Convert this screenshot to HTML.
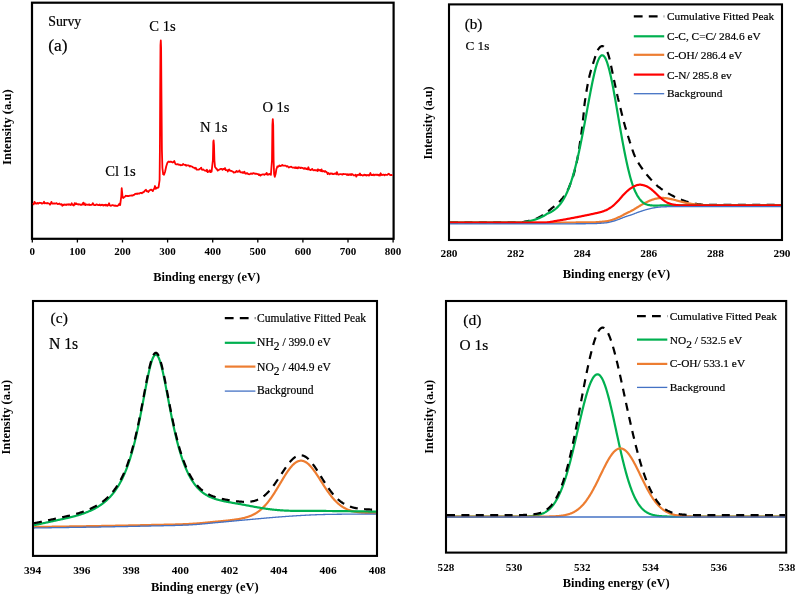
<!DOCTYPE html>
<html><head><meta charset="utf-8"><title>XPS spectra</title>
<style>
html,body{margin:0;padding:0;background:#fff;}
body{width:796px;height:595px;overflow:hidden;}
svg{display:block;will-change:transform;}
text{font-family:"Liberation Serif",serif;fill:#000;}
text.r{stroke:#000;stroke-width:0.2px;}
</style></head>
<body>
<svg width="796" height="595" viewBox="0 0 796 595">
<rect width="796" height="595" fill="#fff"/>
<rect x="32" y="2.7" width="361.6" height="236.1" fill="none" stroke="#000" stroke-width="2.2"/>
<line x1="32.3" y1="239" x2="32.3" y2="242.5" stroke="#000" stroke-width="1.3"/>
<text x="32.3" y="254.7" font-size="11" font-weight="bold" text-anchor="middle" >0</text>
<line x1="77.4" y1="239" x2="77.4" y2="242.5" stroke="#000" stroke-width="1.3"/>
<text x="77.4" y="254.7" font-size="11" font-weight="bold" text-anchor="middle" >100</text>
<line x1="122.5" y1="239" x2="122.5" y2="242.5" stroke="#000" stroke-width="1.3"/>
<text x="122.5" y="254.7" font-size="11" font-weight="bold" text-anchor="middle" >200</text>
<line x1="167.6" y1="239" x2="167.6" y2="242.5" stroke="#000" stroke-width="1.3"/>
<text x="167.6" y="254.7" font-size="11" font-weight="bold" text-anchor="middle" >300</text>
<line x1="212.7" y1="239" x2="212.7" y2="242.5" stroke="#000" stroke-width="1.3"/>
<text x="212.7" y="254.7" font-size="11" font-weight="bold" text-anchor="middle" >400</text>
<line x1="257.8" y1="239" x2="257.8" y2="242.5" stroke="#000" stroke-width="1.3"/>
<text x="257.8" y="254.7" font-size="11" font-weight="bold" text-anchor="middle" >500</text>
<line x1="302.9" y1="239" x2="302.9" y2="242.5" stroke="#000" stroke-width="1.3"/>
<text x="302.9" y="254.7" font-size="11" font-weight="bold" text-anchor="middle" >600</text>
<line x1="348" y1="239" x2="348" y2="242.5" stroke="#000" stroke-width="1.3"/>
<text x="348" y="254.7" font-size="11" font-weight="bold" text-anchor="middle" >700</text>
<line x1="393.1" y1="239" x2="393.1" y2="242.5" stroke="#000" stroke-width="1.3"/>
<text x="393.1" y="254.7" font-size="11" font-weight="bold" text-anchor="middle" >800</text>
<text x="153.2" y="281.1" font-size="12.41" font-weight="bold" text-anchor="start" >Binding energy (eV)</text>
<text transform="translate(11.1,127.2) rotate(-90)" font-size="12.6" font-weight="bold" text-anchor="middle">Intensity (a.u)</text>
<text x="48.3" y="25.5" font-size="13.8" class="r" text-anchor="start" >Survy</text>
<text x="48.3" y="51.1" font-size="17.4" class="r" text-anchor="start" >(a)</text>
<text x="149.3" y="31.4" font-size="14.6" class="r" text-anchor="start" >C 1s</text>
<text x="200.1" y="131.7" font-size="14.7" class="r" text-anchor="start" >N 1s</text>
<text x="262.4" y="111.9" font-size="14.5" class="r" text-anchor="start" >O 1s</text>
<text x="105.3" y="176.3" font-size="14.6" class="r" text-anchor="start" >Cl 1s</text>
<path d="M33,203.02 L33.74,204.34 L34.48,201.85 L35.22,202.72 L35.95,203.66 L36.69,203.54 L37.43,202.91 L38.17,203.67 L38.91,203.09 L39.65,202.73 L40.38,202.98 L41.12,202.8 L41.86,203.53 L42.6,203.28 L43.34,203.07 L44.07,201.79 L44.81,203.41 L45.54,203.03 L46.28,203.18 L47.01,203.54 L47.75,202.98 L48.48,203.27 L49.22,203.49 L49.95,204.67 L50.69,203.53 L51.42,201.92 L52.16,203.55 L52.89,203.67 L53.63,203.49 L54.36,203.38 L55.1,203.65 L55.83,203.39 L56.57,203.08 L57.3,203.8 L58.03,204.1 L58.77,203.76 L59.5,203.5 L60.23,204.45 L60.97,204.51 L61.7,204.09 L62.43,205.78 L63.17,204.63 L63.9,205.03 L64.61,204.46 L65.33,204.54 L66.04,205.15 L66.75,204.33 L67.47,204.38 L68.18,204.74 L68.89,204.12 L69.6,204.49 L70.32,205.09 L71.03,204.63 L71.74,203.27 L72.46,204.89 L73.17,204.9 L73.88,205.52 L74.6,203.15 L75.31,204.21 L76.02,203.17 L76.73,204.13 L77.45,204.04 L78.16,204.64 L78.87,204.26 L79.59,204.37 L80.3,204.86 L81.04,204.47 L81.77,204.94 L82.51,204.27 L83.24,202.61 L83.98,204.56 L84.71,203.36 L85.45,205.04 L86.18,204.75 L86.92,204.41 L87.65,204.84 L88.39,204.85 L89.12,204.28 L89.86,205.08 L90.59,204.9 L91.33,204.84 L92.06,204.61 L92.8,203.09 L93.5,204.38 L94.2,205.13 L94.9,205.14 L95.6,205.18 L96.3,204.45 L97,204.45 L97.7,204.92 L98.4,205.18 L99.1,205.01 L99.8,204.45 L100.5,205.33 L101.2,205.19 L101.9,204.63 L102.6,204.81 L103.3,205.51 L104,204.94 L104.7,205.31 L105.4,204.71 L106.14,205.55 L106.87,204.79 L107.61,205.69 L108.34,205.06 L109.08,203.29 L109.81,205.43 L110.55,205.76 L111.28,205.72 L112.02,205.06 L112.75,205.18 L113.49,205.51 L114.22,205.37 L114.96,205.91 L115.69,205.47 L116.43,205.96 L117.16,206.01 L117.9,205.63 L118.65,205.02 L119.4,203.68 L120.15,205.03 L121.3,196 L121.7,188.2 L122.1,192 L122.6,197.5 L123.4,197.8 L123.4,198 L124.17,197.07 L124.93,196.72 L125.7,195.74 L126.4,195.8 L127.1,196.2 L127.8,195.93 L128.5,196.18 L129.2,195.83 L129.9,195.66 L130.6,195.53 L131.3,195.48 L132.01,195.47 L132.73,195.48 L133.44,194.92 L134.15,194.96 L134.86,194.09 L135.57,193.84 L136.29,193.62 L137,194.06 L137.8,193.33 L138.6,193.63 L139.4,193.68 L140.2,192.92 L141,192.92 L141.8,193.3 L142.6,192.39 L143.45,192.24 L144.3,191.47 L145.15,190.39 L146,189.81 L146.77,191.25 L147.53,191.07 L148.3,192.06 L149.23,190.77 L150.17,190.05 L151.1,189.59 L151.95,190.23 L152.8,191.09 L153.53,189.41 L154.27,188.73 L155,186.04 L155.72,188.77 L156.45,188.02 L157.18,187.67 L157.9,187.81 L158.6,187.16 L159.6,180 L159.9,150 L160.2,90 L160.5,45 L160.8,40.5 L161.1,48 L161.5,100 L161.9,150 L162.4,168 L163.2,174.3 L164,174.8 L165,172 L166.2,166.5 L167.3,163 L168.2,161.8 L168.2,161.86 L168.96,161.66 L169.72,162.03 L170.48,161.69 L171.24,161.73 L172,162.1 L172.77,162.54 L173.53,162.23 L174.3,161.04 L175.3,163.7 L176.08,164.34 L176.87,164.34 L177.65,164.04 L178.43,164.46 L179.22,164.96 L180,164.71 L180.77,165.27 L181.54,165.19 L182.31,165.06 L183.09,163.92 L183.86,164.61 L184.63,164.87 L185.4,164.77 L186.11,165.73 L186.83,165.26 L187.54,165.41 L188.26,165.42 L188.97,165.67 L189.69,166.55 L190.4,165.93 L191.27,166.44 L192.13,166.55 L193,167.47 L193.7,167.65 L194.4,167.91 L195.1,168.45 L195.8,167.82 L196.5,169.52 L197.3,169.63 L198.1,169.56 L198.9,169.59 L199.7,168.82 L200.5,168.44 L201.21,167.74 L201.93,169.72 L202.64,169.81 L203.36,169.45 L204.07,170.09 L204.79,170.66 L205.5,170.69 L206.23,170.96 L206.96,169.76 L207.69,172.14 L208.41,171.35 L209.14,171.59 L209.87,170.18 L210.6,172.06 L211.6,171.69 L212.9,160 L213.3,142 L213.6,140.4 L214,145 L214.4,160 L215,167 L215.6,167.7 L216.5,169 L216.5,168.49 L217.7,170.62 L218.5,169.99 L219.3,169.72 L220.1,169.15 L220.9,168.86 L221.7,168.91 L222.52,169.89 L223.35,168.91 L224.18,169.27 L225,168.09 L225.71,170.09 L226.43,170.18 L227.14,170.08 L227.86,171.47 L228.57,169.88 L229.29,169.51 L230,170.77 L230.78,170.79 L231.55,170.96 L232.32,171.41 L233.1,171.78 L233.8,172.67 L234.5,172.45 L235.2,172.47 L235.9,171.65 L236.6,170.98 L237.3,171.83 L238,171.55 L238.7,171.54 L239.4,170.48 L240.1,172 L240.81,172.31 L241.53,172.5 L242.24,172.09 L242.96,173.04 L243.67,172.51 L244.39,171.63 L245.1,173.49 L245.83,173.72 L246.56,173.05 L247.29,173.08 L248.01,174.09 L248.74,174.04 L249.47,174.27 L250.2,173.96 L250.91,173.33 L251.63,173.76 L252.34,173.94 L253.06,173.2 L253.77,173.25 L254.49,173.46 L255.2,173.88 L255.95,173.53 L256.7,173.79 L257.45,174.11 L258.2,174.05 L258.95,175.14 L259.7,174.55 L260.45,175.67 L261.2,174.88 L262,174.6 L262.8,174.38 L263.6,174.36 L264.4,174.87 L265.2,174.1 L265.91,174.24 L266.62,172.88 L267.33,174.78 L268.04,174.25 L268.76,174.68 L269.47,174 L270.18,174.16 L270.89,174.82 L272,160 L272.4,125 L272.8,119.1 L273.2,125 L273.6,160 L274.1,174 L274.8,176.8 L275.6,174 L276.4,169 L277.3,166.8 L277.3,166.31 L278.01,166.76 L278.73,166.2 L279.44,165.36 L280.16,166.16 L280.87,165.79 L281.59,165.62 L282.3,164.83 L283.05,165.64 L283.8,165.62 L284.55,165.73 L285.3,165.56 L286.03,165.93 L286.76,166.56 L287.49,166.09 L288.21,166.83 L288.94,167.46 L289.67,167.05 L290.4,166.78 L291.17,166.64 L291.93,167.29 L292.7,167.62 L293.47,167.54 L294.23,167.39 L295,168.04 L295.7,167.25 L296.4,168.03 L297.1,167.55 L297.8,168.34 L298.5,167.31 L299.2,167.77 L299.9,167.52 L300.6,168.17 L301.3,167.56 L302,167.78 L302.7,167.79 L303.4,168.5 L304.1,168.83 L304.8,168.03 L305.5,168.4 L306.2,169.13 L306.9,168.58 L307.6,169.35 L308.38,167.23 L309.15,169.69 L309.93,169.71 L310.7,170.15 L311.48,169.49 L312.25,168.87 L313.03,170.15 L313.8,170.3 L314.5,169.94 L315.2,170.37 L315.9,170.13 L316.6,170.25 L317.3,170.99 L318,169.23 L318.7,170.51 L319.4,170.32 L320.1,169.89 L320.83,171.15 L321.56,169.38 L322.29,171.45 L323.01,171.33 L323.74,170.94 L324.47,171.75 L325.2,171.02 L326.03,171.85 L326.87,172.25 L327.7,174.09 L328.41,173.04 L329.13,173.63 L329.84,174.22 L330.56,173.42 L331.27,173.74 L331.99,173.4 L332.7,174.08 L333.4,174.15 L334.1,173.67 L334.8,173.74 L335.5,173.44 L336.2,174.26 L336.9,172.09 L337.6,173.83 L338.3,174.52 L339,174.61 L339.7,174.13 L340.4,174.1 L341.1,174.1 L341.8,174.44 L342.5,174.67 L343.2,173.86 L343.9,174.09 L344.6,174.22 L345.3,174.05 L346.04,174.14 L346.77,174.92 L347.51,174.3 L348.24,175.12 L348.98,174.26 L349.71,174.79 L350.45,174.18 L351.18,175.06 L351.92,174.04 L352.65,174.31 L353.39,175.34 L354.12,175.33 L354.86,175.29 L355.59,174.61 L356.33,176.6 L357.06,175.11 L357.8,174.85 L358.54,174.66 L359.28,175.13 L360.02,173.48 L360.76,175.23 L361.51,174.81 L362.25,175.38 L362.99,175.53 L363.73,175.11 L364.47,174.57 L365.21,175.29 L365.95,174.81 L366.69,175.6 L367.44,175.15 L368.18,174.98 L368.92,175.67 L369.66,174.74 L370.4,173.04 L371.14,175 L371.87,174.98 L372.61,175.04 L373.34,174.51 L374.08,175.24 L374.81,174.58 L375.55,174.91 L376.28,174.64 L377.02,175.07 L377.75,174.58 L378.49,175.39 L379.22,174.68 L379.96,175.54 L380.69,173.26 L381.43,174.88 L382.16,175.15 L382.9,174.6 L383.65,174.68 L384.39,175.42 L385.14,174.65 L385.88,174.91 L386.63,174.9 L387.38,174.75 L388.12,174.11 L388.87,173.71 L389.62,174.62 L390.36,175.14 L391.11,174.86 L391.85,175.19 L392.6,175.1" fill="none" stroke="#ff0000" stroke-width="1.8" stroke-linejoin="round" />
<rect x="449" y="4.4" width="333" height="235.6" fill="none" stroke="#000" stroke-width="2.1"/>
<text x="449" y="257.1" font-size="11.3" font-weight="bold" text-anchor="middle" >280</text>
<text x="515.6" y="257.1" font-size="11.3" font-weight="bold" text-anchor="middle" >282</text>
<text x="582.2" y="257.1" font-size="11.3" font-weight="bold" text-anchor="middle" >284</text>
<text x="648.8" y="257.1" font-size="11.3" font-weight="bold" text-anchor="middle" >286</text>
<text x="715.4" y="257.1" font-size="11.3" font-weight="bold" text-anchor="middle" >288</text>
<text x="782" y="257.1" font-size="11.3" font-weight="bold" text-anchor="middle" >290</text>
<text x="562.7" y="278.1" font-size="12.47" font-weight="bold" text-anchor="start" >Binding energy (eV)</text>
<text transform="translate(432.2,122.9) rotate(-90)" font-size="12.2" font-weight="bold" text-anchor="middle">Intensity (a.u)</text>
<text x="464.7" y="28.5" font-size="15.2" class="r" text-anchor="start" >(b)</text>
<text x="465.5" y="49.5" font-size="13.2" class="r" text-anchor="start" >C 1s</text>
<path d="M450,222.3 L450.26,222.3 L450.52,222.3 L450.8,222.3 L451.09,222.3 L451.38,222.3 L451.69,222.3 L452.01,222.3 L452.34,222.3 L452.67,222.3 L453.02,222.3 L453.38,222.3 L453.74,222.3 L454.12,222.3 L454.5,222.3 L454.89,222.3 L455.29,222.3 L455.7,222.31 L456.11,222.31 L456.54,222.31 L456.97,222.31 L457.41,222.31 L457.86,222.31 L458.31,222.31 L458.78,222.31 L459.24,222.31 L459.72,222.31 L460.2,222.31 L460.69,222.31 L461.19,222.31 L461.69,222.31 L462.2,222.32 L462.71,222.32 L463.23,222.32 L463.75,222.32 L464.28,222.32 L464.82,222.32 L465.36,222.32 L465.9,222.32 L466.45,222.32 L467.01,222.32 L467.57,222.32 L468.13,222.32 L468.7,222.33 L469.27,222.33 L469.84,222.33 L470.42,222.33 L471.01,222.33 L471.59,222.33 L472.18,222.33 L472.77,222.33 L473.36,222.33 L473.96,222.33 L474.56,222.33 L475.16,222.34 L475.76,222.34 L476.37,222.34 L476.98,222.34 L477.58,222.34 L478.19,222.34 L478.81,222.34 L479.42,222.34 L480.03,222.34 L480.65,222.34 L481.26,222.34 L481.88,222.34 L482.49,222.34 L483.11,222.35 L483.72,222.35 L484.34,222.35 L484.95,222.35 L485.57,222.35 L486.18,222.35 L486.79,222.35 L487.41,222.35 L488.02,222.35 L488.63,222.35 L489.23,222.35 L489.84,222.35 L490.44,222.35 L491.05,222.35 L491.65,222.35 L492.25,222.35 L492.84,222.35 L493.43,222.35 L494.02,222.35 L494.61,222.35 L495.19,222.35 L495.77,222.35 L496.35,222.35 L496.93,222.35 L497.5,222.35 L498.06,222.35 L498.62,222.35 L499.18,222.35 L499.73,222.35 L500.28,222.35 L500.82,222.35 L501.36,222.35 L501.9,222.35 L502.42,222.35 L502.95,222.35 L503.46,222.35 L503.97,222.35 L504.48,222.34 L504.98,222.34 L505.47,222.34 L505.96,222.34 L506.44,222.34 L506.91,222.34 L507.38,222.34 L507.84,222.34 L508.29,222.34 L508.73,222.33 L509.17,222.33 L509.6,222.33 L510.02,222.33 L510.43,222.33 L510.84,222.33 L511.24,222.32 L511.62,222.32 L512,222.32 L512.37,222.32 L512.74,222.32 L513.09,222.31 L513.43,222.31 L513.77,222.31 L514.09,222.31 L514.4,222.31 L514.71,222.3 L515,222.3 L516.74,222.28 L518.23,222.27 L519.48,222.25 L520.52,222.23 L521.37,222.21 L522.04,222.2 L522.57,222.17 L522.96,222.15 L523.24,222.13 L523.44,222.1 L523.56,222.07 L523.64,222.04 L523.69,222 L523.73,221.96 L523.79,221.91 L523.88,221.86 L524.03,221.8 L524.25,221.74 L524.57,221.67 L525,221.6 L525.5,221.52 L526.01,221.43 L526.53,221.34 L527.05,221.25 L527.57,221.15 L528.09,221.04 L528.62,220.93 L529.14,220.82 L529.67,220.7 L530.19,220.58 L530.7,220.46 L531.22,220.33 L531.72,220.2 L532.22,220.06 L532.71,219.92 L533.19,219.78 L533.66,219.64 L534.12,219.5 L534.57,219.35 L535,219.2 L535.56,218.99 L536.1,218.78 L536.62,218.55 L537.13,218.32 L537.63,218.08 L538.11,217.84 L538.58,217.59 L539.04,217.34 L539.49,217.08 L539.93,216.83 L540.35,216.58 L540.78,216.33 L541.19,216.08 L541.6,215.84 L542,215.6 L542.49,215.31 L542.95,215.03 L543.39,214.75 L543.81,214.48 L544.23,214.2 L544.62,213.93 L545.02,213.66 L545.41,213.38 L545.8,213.09 L546.19,212.8 L546.59,212.51 L547,212.2 L547.42,211.88 L547.83,211.56 L548.25,211.22 L548.67,210.89 L549.08,210.54 L549.5,210.19 L549.92,209.84 L550.33,209.49 L550.75,209.14 L551.17,208.79 L551.58,208.44 L552,208.1 L552.42,207.76 L552.83,207.43 L553.24,207.11 L553.66,206.79 L554.07,206.46 L554.48,206.14 L554.9,205.81 L555.31,205.47 L555.73,205.12 L556.15,204.76 L556.57,204.39 L557,204 L557.35,203.67 L557.7,203.34 L558.07,202.99 L558.43,202.63 L558.8,202.27 L559.18,201.9 L559.55,201.53 L559.92,201.15 L560.28,200.77 L560.64,200.39 L560.99,200 L561.34,199.62 L561.67,199.24 L561.99,198.87 L562.3,198.5 L562.64,198.07 L562.97,197.65 L563.29,197.21 L563.59,196.78 L563.89,196.35 L564.18,195.92 L564.46,195.48 L564.73,195.06 L565,194.63 L565.25,194.21 L565.51,193.8 L565.76,193.4 L566,193 L566.31,192.5 L566.59,192.03 L566.87,191.58 L567.13,191.14 L567.38,190.7 L567.63,190.26 L567.87,189.8 L568.11,189.33 L568.35,188.83 L568.6,188.3 L568.79,187.87 L568.98,187.43 L569.16,186.98 L569.34,186.53 L569.52,186.06 L569.7,185.58 L569.88,185.09 L570.06,184.6 L570.25,184.09 L570.43,183.58 L570.62,183.06 L570.81,182.53 L571,182 L571.16,181.56 L571.33,181.11 L571.5,180.65 L571.67,180.19 L571.84,179.72 L572.02,179.24 L572.19,178.76 L572.37,178.28 L572.54,177.79 L572.72,177.29 L572.89,176.8 L573.06,176.3 L573.23,175.8 L573.39,175.3 L573.55,174.8 L573.7,174.3 L573.84,173.83 L573.98,173.35 L574.11,172.87 L574.24,172.39 L574.37,171.9 L574.5,171.41 L574.62,170.93 L574.75,170.43 L574.87,169.94 L574.99,169.45 L575.11,168.95 L575.22,168.46 L575.34,167.97 L575.46,167.47 L575.57,166.98 L575.69,166.49 L575.8,166 L575.92,165.49 L576.04,165 L576.15,164.52 L576.26,164.05 L576.37,163.59 L576.48,163.12 L576.59,162.66 L576.69,162.19 L576.8,161.71 L576.91,161.21 L577.02,160.69 L577.13,160.15 L577.24,159.59 L577.36,159 L577.48,158.37 L577.6,157.7 L577.67,157.29 L577.75,156.86 L577.83,156.42 L577.91,155.96 L577.99,155.5 L578.07,155.02 L578.15,154.54 L578.23,154.05 L578.31,153.54 L578.39,153.04 L578.48,152.52 L578.56,152 L578.65,151.47 L578.73,150.94 L578.81,150.41 L578.9,149.87 L578.98,149.33 L579.07,148.79 L579.15,148.25 L579.23,147.71 L579.32,147.17 L579.4,146.63 L579.48,146.1 L579.56,145.57 L579.64,145.04 L579.72,144.52 L579.8,144 L579.87,143.51 L579.95,143.01 L580.02,142.52 L580.1,142.02 L580.17,141.53 L580.25,141.04 L580.32,140.54 L580.39,140.05 L580.47,139.56 L580.54,139.06 L580.61,138.57 L580.69,138.07 L580.76,137.58 L580.83,137.08 L580.9,136.58 L580.97,136.09 L581.05,135.59 L581.12,135.09 L581.19,134.58 L581.26,134.08 L581.33,133.58 L581.39,133.07 L581.46,132.56 L581.53,132.06 L581.6,131.54 L581.67,131.03 L581.73,130.52 L581.8,130 L581.86,129.52 L581.92,129.03 L581.98,128.54 L582.04,128.05 L582.1,127.56 L582.16,127.06 L582.22,126.57 L582.28,126.07 L582.34,125.57 L582.39,125.07 L582.45,124.57 L582.51,124.07 L582.56,123.57 L582.62,123.07 L582.67,122.56 L582.73,122.06 L582.79,121.55 L582.84,121.05 L582.9,120.54 L582.95,120.04 L583.01,119.53 L583.06,119.03 L583.12,118.52 L583.17,118.02 L583.23,117.51 L583.28,117.01 L583.34,116.5 L583.39,116 L583.45,115.5 L583.5,115 L583.55,114.5 L583.6,114.01 L583.65,113.53 L583.7,113.05 L583.75,112.58 L583.79,112.11 L583.83,111.65 L583.87,111.18 L583.91,110.72 L583.96,110.26 L584,109.8 L584.04,109.34 L584.08,108.87 L584.12,108.41 L584.16,107.94 L584.21,107.46 L584.25,106.99 L584.3,106.5 L584.35,106.01 L584.4,105.52 L584.45,105.01 L584.51,104.5 L584.57,103.98 L584.63,103.45 L584.7,102.91 L584.77,102.35 L584.85,101.78 L584.93,101.2 L585.01,100.61 L585.1,100 L585.16,99.57 L585.23,99.14 L585.3,98.7 L585.36,98.25 L585.43,97.79 L585.5,97.32 L585.58,96.85 L585.65,96.37 L585.73,95.89 L585.8,95.4 L585.88,94.9 L585.96,94.4 L586.04,93.89 L586.13,93.38 L586.21,92.87 L586.29,92.35 L586.38,91.83 L586.47,91.3 L586.55,90.78 L586.64,90.25 L586.73,89.72 L586.83,89.19 L586.92,88.66 L587.01,88.12 L587.1,87.59 L587.2,87.06 L587.29,86.53 L587.39,86 L587.49,85.47 L587.58,84.95 L587.68,84.42 L587.78,83.9 L587.88,83.38 L587.98,82.87 L588.08,82.36 L588.18,81.85 L588.28,81.35 L588.38,80.85 L588.49,80.36 L588.59,79.88 L588.69,79.4 L588.79,78.92 L588.9,78.46 L589,78 L589.12,77.46 L589.25,76.92 L589.38,76.38 L589.51,75.84 L589.65,75.3 L589.78,74.77 L589.92,74.23 L590.06,73.7 L590.21,73.17 L590.35,72.64 L590.49,72.11 L590.64,71.59 L590.79,71.07 L590.93,70.55 L591.08,70.03 L591.23,69.52 L591.38,69.02 L591.53,68.51 L591.68,68.01 L591.83,67.52 L591.98,67.03 L592.13,66.54 L592.28,66.06 L592.42,65.59 L592.57,65.12 L592.72,64.65 L592.86,64.2 L593,63.75 L593.14,63.3 L593.28,62.86 L593.42,62.43 L593.56,62.01 L593.69,61.59 L593.82,61.18 L593.95,60.78 L594.08,60.39 L594.2,60 L594.41,59.34 L594.62,58.7 L594.81,58.08 L595.01,57.47 L595.2,56.89 L595.38,56.33 L595.56,55.78 L595.74,55.25 L595.91,54.74 L596.08,54.25 L596.25,53.77 L596.42,53.31 L596.59,52.86 L596.76,52.43 L596.93,52.01 L597.1,51.61 L597.28,51.22 L597.45,50.85 L597.63,50.49 L597.81,50.14 L598,49.8 L598.36,49.19 L598.73,48.64 L599.1,48.13 L599.48,47.68 L599.85,47.28 L600.23,46.94 L600.61,46.65 L600.99,46.42 L601.36,46.25 L601.73,46.15 L602.1,46.1 L602.5,46.13 L602.9,46.24 L603.3,46.44 L603.7,46.7 L604.1,47.04 L604.49,47.43 L604.88,47.88 L605.26,48.38 L605.64,48.92 L606,49.5 L606.2,49.83 L606.39,50.15 L606.57,50.47 L606.75,50.79 L606.92,51.12 L607.09,51.46 L607.26,51.81 L607.43,52.19 L607.6,52.59 L607.77,53.02 L607.94,53.48 L608.12,53.98 L608.3,54.52 L608.48,55.11 L608.68,55.74 L608.88,56.43 L609.08,57.19 L609.3,58 L609.39,58.35 L609.49,58.73 L609.58,59.11 L609.68,59.52 L609.78,59.93 L609.88,60.36 L609.98,60.8 L610.09,61.26 L610.19,61.73 L610.3,62.2 L610.4,62.69 L610.51,63.19 L610.62,63.69 L610.73,64.21 L610.84,64.73 L610.96,65.26 L611.07,65.79 L611.18,66.33 L611.3,66.88 L611.41,67.43 L611.52,67.98 L611.64,68.53 L611.75,69.09 L611.87,69.65 L611.98,70.2 L612.09,70.76 L612.21,71.32 L612.32,71.87 L612.43,72.43 L612.54,72.98 L612.66,73.52 L612.77,74.07 L612.88,74.61 L612.99,75.14 L613.09,75.66 L613.2,76.18 L613.3,76.69 L613.41,77.2 L613.51,77.69 L613.61,78.17 L613.71,78.65 L613.81,79.11 L613.91,79.56 L614,80 L614.13,80.59 L614.25,81.17 L614.38,81.75 L614.5,82.32 L614.62,82.89 L614.74,83.45 L614.86,84 L614.98,84.54 L615.1,85.08 L615.21,85.62 L615.33,86.15 L615.44,86.67 L615.55,87.18 L615.66,87.7 L615.77,88.2 L615.88,88.7 L615.99,89.19 L616.1,89.68 L616.2,90.17 L616.31,90.64 L616.41,91.12 L616.51,91.59 L616.62,92.05 L616.72,92.51 L616.82,92.96 L616.92,93.41 L617.02,93.85 L617.11,94.29 L617.21,94.72 L617.31,95.15 L617.4,95.58 L617.5,96 L617.64,96.59 L617.76,97.15 L617.89,97.69 L618.01,98.2 L618.12,98.69 L618.23,99.16 L618.34,99.61 L618.44,100.06 L618.55,100.49 L618.65,100.92 L618.76,101.35 L618.86,101.78 L618.97,102.21 L619.07,102.65 L619.19,103.1 L619.3,103.56 L619.42,104.04 L619.54,104.54 L619.67,105.06 L619.81,105.61 L619.95,106.19 L620.1,106.8 L620.2,107.21 L620.3,107.63 L620.41,108.06 L620.52,108.5 L620.62,108.95 L620.73,109.41 L620.85,109.87 L620.96,110.34 L621.07,110.82 L621.19,111.3 L621.31,111.79 L621.43,112.29 L621.55,112.79 L621.67,113.29 L621.79,113.8 L621.92,114.31 L622.04,114.82 L622.17,115.34 L622.3,115.86 L622.43,116.38 L622.56,116.91 L622.69,117.43 L622.82,117.95 L622.95,118.48 L623.08,119 L623.22,119.52 L623.35,120.04 L623.48,120.56 L623.62,121.07 L623.75,121.59 L623.89,122.1 L624.03,122.6 L624.16,123.1 L624.3,123.6 L624.43,124.08 L624.57,124.56 L624.7,125.04 L624.84,125.52 L624.97,126 L625.11,126.48 L625.25,126.96 L625.39,127.44 L625.53,127.92 L625.67,128.4 L625.81,128.88 L625.95,129.36 L626.09,129.84 L626.24,130.32 L626.38,130.8 L626.53,131.28 L626.67,131.76 L626.82,132.24 L626.96,132.72 L627.11,133.2 L627.26,133.68 L627.41,134.16 L627.56,134.64 L627.71,135.12 L627.86,135.6 L628.01,136.08 L628.16,136.56 L628.31,137.04 L628.47,137.52 L628.62,138 L628.78,138.48 L628.93,138.96 L629.09,139.44 L629.24,139.92 L629.4,140.4 L629.56,140.88 L629.71,141.37 L629.87,141.85 L630.02,142.34 L630.18,142.83 L630.33,143.32 L630.49,143.81 L630.64,144.31 L630.8,144.8 L630.95,145.3 L631.11,145.79 L631.27,146.29 L631.42,146.78 L631.58,147.28 L631.74,147.77 L631.9,148.27 L632.06,148.76 L632.23,149.25 L632.39,149.74 L632.55,150.23 L632.72,150.72 L632.89,151.2 L633.06,151.68 L633.23,152.16 L633.41,152.64 L633.59,153.11 L633.77,153.58 L633.95,154.05 L634.13,154.51 L634.32,154.97 L634.51,155.43 L634.7,155.88 L634.9,156.32 L635.1,156.76 L635.3,157.2 L635.53,157.69 L635.77,158.17 L636.01,158.64 L636.25,159.12 L636.5,159.58 L636.74,160.05 L637,160.51 L637.25,160.96 L637.51,161.41 L637.77,161.86 L638.03,162.31 L638.3,162.75 L638.56,163.19 L638.83,163.62 L639.11,164.05 L639.38,164.48 L639.66,164.91 L639.94,165.33 L640.22,165.76 L640.5,166.18 L640.78,166.59 L641.07,167.01 L641.36,167.43 L641.65,167.84 L641.94,168.25 L642.23,168.66 L642.52,169.07 L642.81,169.48 L643.11,169.89 L643.4,170.29 L643.7,170.7 L644.01,171.12 L644.33,171.54 L644.65,171.97 L644.98,172.39 L645.31,172.82 L645.65,173.25 L645.99,173.67 L646.34,174.1 L646.68,174.52 L647.03,174.95 L647.39,175.37 L647.74,175.79 L648.09,176.2 L648.45,176.62 L648.8,177.03 L649.15,177.43 L649.5,177.83 L649.85,178.22 L650.2,178.61 L650.54,179 L650.88,179.37 L651.22,179.74 L651.55,180.11 L651.88,180.46 L652.2,180.81 L652.51,181.14 L652.82,181.47 L653.12,181.79 L653.42,182.1 L653.7,182.4 L654.15,182.87 L654.58,183.31 L654.99,183.72 L655.38,184.1 L655.76,184.46 L656.12,184.8 L656.47,185.12 L656.82,185.43 L657.16,185.72 L657.5,186 L657.84,186.28 L658.18,186.56 L658.53,186.83 L658.9,187.11 L659.27,187.39 L659.66,187.68 L660.07,187.98 L660.5,188.3 L660.88,188.58 L661.28,188.86 L661.68,189.14 L662.09,189.43 L662.51,189.71 L662.93,190 L663.36,190.29 L663.8,190.57 L664.24,190.86 L664.68,191.14 L665.13,191.42 L665.58,191.7 L666.03,191.98 L666.48,192.26 L666.93,192.53 L667.38,192.8 L667.83,193.07 L668.28,193.34 L668.72,193.59 L669.16,193.85 L669.6,194.1 L670.05,194.36 L670.5,194.61 L670.94,194.86 L671.38,195.11 L671.82,195.35 L672.26,195.59 L672.7,195.83 L673.13,196.06 L673.57,196.29 L674.01,196.52 L674.46,196.74 L674.9,196.97 L675.35,197.19 L675.81,197.41 L676.27,197.63 L676.74,197.84 L677.22,198.06 L677.7,198.27 L678.2,198.49 L678.7,198.7 L679.15,198.89 L679.61,199.07 L680.08,199.26 L680.55,199.45 L681.03,199.63 L681.52,199.82 L682.02,200.01 L682.52,200.19 L683.02,200.37 L683.53,200.56 L684.04,200.74 L684.55,200.91 L685.06,201.09 L685.57,201.26 L686.08,201.43 L686.59,201.59 L687.09,201.75 L687.59,201.9 L688.08,202.06 L688.57,202.2 L689.06,202.34 L689.53,202.47 L690,202.6 L690.53,202.74 L691.05,202.87 L691.57,203 L692.08,203.12 L692.59,203.23 L693.1,203.34 L693.6,203.44 L694.09,203.54 L694.59,203.63 L695.08,203.72 L695.57,203.8 L696.06,203.88 L696.55,203.96 L697.04,204.03 L697.53,204.1 L698.02,204.16 L698.51,204.23 L699.01,204.29 L699.5,204.34 L700,204.4 L700.5,204.45 L701,204.5 L701.5,204.54 L702,204.57 L702.5,204.61 L703,204.63 L703.5,204.66 L704,204.68 L704.5,204.69 L705,204.71 L705.5,204.72 L706,204.73 L706.5,204.74 L707,204.75 L707.5,204.75 L708,204.76 L708.5,204.77 L709,204.78 L709.5,204.79 L710,204.8 L710.44,204.81 L710.77,204.82 L711.01,204.83 L711.18,204.84 L711.3,204.85 L711.39,204.86 L711.47,204.86 L711.55,204.87 L711.66,204.87 L711.81,204.88 L712.03,204.88 L712.33,204.88 L712.73,204.88 L713.25,204.89 L713.91,204.89 L714.74,204.89 L715.74,204.89 L716.93,204.9 L718.35,204.9 L720,204.9 L720.3,204.9 L720.6,204.9 L720.92,204.9 L721.25,204.9 L721.59,204.9 L721.94,204.9 L722.29,204.9 L722.66,204.9 L723.04,204.9 L723.43,204.9 L723.82,204.9 L724.23,204.9 L724.64,204.9 L725.06,204.9 L725.49,204.9 L725.93,204.9 L726.38,204.91 L726.83,204.91 L727.29,204.91 L727.76,204.91 L728.24,204.91 L728.72,204.91 L729.21,204.91 L729.71,204.91 L730.22,204.91 L730.73,204.91 L731.24,204.91 L731.76,204.91 L732.29,204.91 L732.82,204.91 L733.36,204.91 L733.91,204.91 L734.46,204.91 L735.01,204.91 L735.57,204.91 L736.13,204.91 L736.7,204.91 L737.27,204.91 L737.85,204.91 L738.43,204.91 L739.01,204.91 L739.6,204.91 L740.18,204.91 L740.78,204.91 L741.37,204.91 L741.97,204.91 L742.57,204.91 L743.17,204.91 L743.78,204.91 L744.38,204.91 L744.99,204.91 L745.6,204.91 L746.21,204.91 L746.82,204.91 L747.44,204.91 L748.05,204.91 L748.67,204.91 L749.28,204.91 L749.9,204.91 L750.51,204.91 L751.12,204.91 L751.74,204.91 L752.35,204.91 L752.97,204.91 L753.58,204.91 L754.19,204.91 L754.8,204.91 L755.41,204.91 L756.02,204.91 L756.62,204.91 L757.22,204.91 L757.83,204.9 L758.42,204.9 L759.02,204.9 L759.61,204.9 L760.2,204.9 L760.79,204.9 L761.38,204.9 L761.96,204.9 L762.53,204.9 L763.11,204.9 L763.68,204.9 L764.24,204.9 L764.8,204.9 L765.36,204.9 L765.91,204.9 L766.45,204.9 L766.99,204.9 L767.53,204.9 L768.06,204.9 L768.58,204.9 L769.1,204.9 L769.61,204.9 L770.12,204.9 L770.62,204.9 L771.11,204.9 L771.6,204.9 L772.08,204.9 L772.55,204.9 L773.02,204.9 L773.47,204.9 L773.92,204.9 L774.36,204.9 L774.8,204.9 L775.22,204.9 L775.64,204.9 L776.05,204.9 L776.45,204.9 L776.84,204.9 L777.22,204.9 L777.59,204.9 L777.95,204.9 L778.3,204.9 L778.64,204.9 L778.98,204.9 L779.3,204.9 L779.61,204.9 L779.91,204.9 L780.2,204.9 L780.48,204.9 L780.74,204.9 L781,204.9" fill="none" stroke="#000" stroke-width="2.2" stroke-linejoin="round" stroke-dasharray="8 6.4" />
<path d="M450,222.5 L450.5,222.5 L451,222.5 L451.5,222.5 L452,222.5 L452.5,222.5 L453,222.5 L453.5,222.5 L454,222.5 L454.5,222.5 L455,222.5 L455.5,222.5 L456,222.5 L456.5,222.5 L457,222.5 L457.5,222.5 L458,222.5 L458.5,222.5 L459,222.5 L459.5,222.5 L460,222.5 L460.5,222.5 L461,222.5 L461.5,222.5 L462,222.5 L462.5,222.5 L463,222.5 L463.5,222.5 L464,222.5 L464.5,222.5 L465,222.5 L465.5,222.5 L466,222.5 L466.5,222.5 L467,222.5 L467.5,222.5 L468,222.5 L468.5,222.5 L469,222.5 L469.5,222.5 L470,222.5 L470.5,222.5 L471,222.5 L471.5,222.5 L472,222.5 L472.5,222.5 L473,222.5 L473.5,222.5 L474,222.5 L474.5,222.5 L475,222.5 L475.5,222.5 L476,222.5 L476.5,222.5 L477,222.51 L477.5,222.51 L478,222.51 L478.5,222.51 L479,222.51 L479.5,222.51 L480,222.51 L480.5,222.51 L481,222.51 L481.5,222.51 L482,222.51 L482.5,222.51 L483,222.51 L483.5,222.51 L484,222.51 L484.5,222.51 L485,222.51 L485.5,222.51 L486,222.51 L486.5,222.51 L487,222.52 L487.5,222.52 L488,222.52 L488.5,222.52 L489,222.52 L489.5,222.52 L490,222.52 L490.5,222.52 L491,222.52 L491.5,222.52 L492,222.52 L492.5,222.52 L493,222.52 L493.5,222.52 L494,222.52 L494.5,222.52 L495,222.52 L495.5,222.53 L496,222.53 L496.5,222.53 L497,222.53 L497.5,222.53 L498,222.53 L498.5,222.53 L499,222.53 L499.5,222.53 L500,222.53 L500.5,222.53 L501,222.53 L501.5,222.53 L502,222.53 L502.5,222.53 L503,222.53 L503.5,222.53 L504,222.54 L504.5,222.54 L505,222.54 L505.5,222.54 L506,222.54 L506.5,222.54 L507,222.54 L507.5,222.54 L508,222.54 L508.5,222.54 L509,222.54 L509.5,222.54 L510,222.54 L510.5,222.54 L511,222.54 L511.5,222.54 L512,222.54 L512.5,222.54 L513,222.54 L513.5,222.54 L514,222.55 L514.5,222.55 L515,222.55 L515.5,222.55 L516,222.55 L516.5,222.55 L517,222.55 L517.5,222.55 L518,222.55 L518.5,222.55 L519,222.55 L519.5,222.55 L520,222.55 L520.5,222.55 L521,222.55 L521.5,222.55 L522,222.55 L522.5,222.55 L523,222.55 L523.5,222.55 L524,222.55 L524.5,222.55 L525,222.55 L525.5,222.55 L526,222.55 L526.5,222.55 L527,222.55 L527.5,222.55 L528,222.55 L528.5,222.55 L529,222.55 L529.5,222.55 L530,222.55 L530.5,222.55 L531,222.55 L531.5,222.55 L532,222.55 L532.5,222.55 L533,222.55 L533.5,222.55 L534,222.55 L534.5,222.55 L535,222.55 L535.5,222.55 L536,222.55 L536.5,222.55 L537,222.55 L537.5,222.55 L538,222.55 L538.5,222.55 L539,222.55 L539.5,222.55 L540,222.55 L540.5,222.55 L541,222.55 L541.5,222.55 L542,222.55 L542.5,222.55 L543,222.55 L543.5,222.55 L544,222.55 L544.5,222.55 L545,222.55 L545.5,222.55 L546,222.55 L546.5,222.55 L547,222.55 L547.5,222.55 L548,222.55 L548.5,222.55 L549,222.55 L549.5,222.55 L550,222.54 L550.5,222.54 L551,222.54 L551.5,222.54 L552,222.54 L552.5,222.54 L553,222.54 L553.5,222.54 L554,222.54 L554.5,222.54 L555,222.54 L555.5,222.54 L556,222.53 L556.5,222.53 L557,222.53 L557.5,222.53 L558,222.53 L558.5,222.53 L559,222.53 L559.5,222.53 L560,222.53 L560.5,222.53 L561,222.52 L561.5,222.52 L562,222.52 L562.5,222.52 L563,222.52 L563.5,222.52 L564,222.52 L564.5,222.51 L565,222.51 L565.5,222.51 L566,222.51 L566.5,222.51 L567,222.51 L567.5,222.51 L568,222.5 L568.5,222.5 L569,222.5 L569.5,222.5 L570,222.5 L570.5,222.5 L571,222.49 L571.5,222.49 L572,222.49 L572.5,222.49 L573,222.49 L573.5,222.48 L574,222.48 L574.5,222.48 L575,222.48 L575.5,222.48 L576,222.47 L576.5,222.47 L577,222.47 L577.5,222.47 L578,222.46 L578.5,222.46 L579,222.46 L579.5,222.46 L580,222.45 L580.5,222.45 L581,222.45 L581.5,222.45 L582,222.44 L582.5,222.44 L583,222.44 L583.5,222.43 L584,222.43 L584.5,222.43 L585,222.43 L585.5,222.42 L586,222.42 L586.5,222.41 L587,222.41 L587.5,222.41 L588,222.4 L588.5,222.4 L589,222.4 L589.5,222.39 L590,222.39 L590.5,222.38 L591,222.38 L591.5,222.37 L592,222.35 L592.5,222.34 L593,222.33 L593.5,222.31 L594,222.29 L594.5,222.27 L595,222.25 L595.5,222.23 L596,222.2 L596.5,222.17 L597,222.14 L597.5,222.11 L598,222.08 L598.5,222.04 L599,222.01 L599.5,221.97 L600,221.93 L600.5,221.89 L601,221.85 L601.5,221.8 L602,221.76 L602.5,221.71 L603,221.66 L603.5,221.61 L604,221.56 L604.5,221.5 L605,221.45 L605.5,221.39 L606,221.33 L606.5,221.27 L607,221.19 L607.5,221.1 L608,221.01 L608.5,220.9 L609,220.78 L609.5,220.66 L610,220.52 L610.5,220.38 L611,220.24 L611.5,220.09 L612,219.93 L612.5,219.76 L613,219.59 L613.5,219.42 L614,219.23 L614.5,219.04 L615,218.85 L615.5,218.64 L616,218.44 L616.5,218.23 L617,218.01 L617.5,217.8 L618,217.58 L618.5,217.35 L619,217.13 L619.5,216.9 L620,216.66 L620.5,216.41 L621,216.16 L621.5,215.9 L622,215.64 L622.5,215.37 L623,215.1 L623.5,214.84 L624,214.57 L624.5,214.32 L625,214.06 L625.5,213.81 L626,213.57 L626.5,213.32 L627,213.08 L627.5,212.84 L628,212.6 L628.5,212.35 L629,212.11 L629.5,211.86 L630,211.61 L630.5,211.36 L631,211.1 L631.5,210.83 L632,210.56 L632.5,210.28 L633,209.99 L633.5,209.7 L634,209.39 L634.5,209.09 L635,208.78 L635.5,208.46 L636,208.15 L636.5,207.84 L637,207.53 L637.5,207.22 L638,206.93 L638.5,206.63 L639,206.34 L639.5,206.04 L640,205.75 L640.5,205.46 L641,205.17 L641.5,204.89 L642,204.6 L642.5,204.32 L643,204.04 L643.5,203.77 L644,203.5 L644.5,203.23 L645,202.97 L645.5,202.71 L646,202.46 L646.5,202.21 L647,201.96 L647.5,201.71 L648,201.48 L648.5,201.24 L649,201.02 L649.5,200.8 L650,200.58 L650.5,200.38 L651,200.18 L651.5,200 L652,199.82 L652.5,199.65 L653,199.49 L653.5,199.34 L654,199.19 L654.5,199.05 L655,198.92 L655.5,198.8 L656,198.68 L656.5,198.57 L657,198.47 L657.5,198.38 L658,198.29 L658.5,198.22 L659,198.15 L659.5,198.09 L660,198.04 L660.5,198 L661,197.97 L661.5,197.95 L662,197.94 L662.5,197.94 L663,197.95 L663.5,197.97 L664,197.99 L664.5,198.03 L665,198.07 L665.5,198.12 L666,198.18 L666.5,198.24 L667,198.31 L667.5,198.39 L668,198.47 L668.5,198.56 L669,198.66 L669.5,198.76 L670,198.86 L670.5,198.97 L671,199.08 L671.5,199.19 L672,199.31 L672.5,199.43 L673,199.55 L673.5,199.67 L674,199.8 L674.5,199.92 L675,200.05 L675.5,200.18 L676,200.31 L676.5,200.44 L677,200.58 L677.5,200.71 L678,200.84 L678.5,200.97 L679,201.1 L679.5,201.23 L680,201.36 L680.5,201.49 L681,201.62 L681.5,201.75 L682,201.87 L682.5,202 L683,202.12 L683.5,202.24 L684,202.36 L684.5,202.47 L685,202.58 L685.5,202.7 L686,202.8 L686.5,202.91 L687,203.01 L687.5,203.11 L688,203.21 L688.5,203.31 L689,203.4 L689.5,203.49 L690,203.58 L690.5,203.66 L691,203.74 L691.5,203.82 L692,203.9 L692.5,203.97 L693,204.04 L693.5,204.11 L694,204.18 L694.5,204.24 L695,204.3 L695.5,204.36 L696,204.41 L696.5,204.46 L697,204.51 L697.5,204.56 L698,204.61 L698.5,204.65 L699,204.69 L699.5,204.73 L700,204.77 L700.5,204.81 L701,204.84 L701.5,204.87 L702,204.9 L702.5,204.93 L703,204.95 L703.5,204.98 L704,205 L704.5,205.03 L705,205.05 L705.5,205.07 L706,205.08 L706.5,205.1 L707,205.12 L707.5,205.13 L708,205.15 L708.5,205.16 L709,205.17 L709.5,205.18 L710,205.19 L710.5,205.2 L711,205.21 L711.5,205.22 L712,205.23 L712.5,205.24 L713,205.24 L713.5,205.25 L714,205.26 L714.5,205.26 L715,205.27 L715.5,205.27 L716,205.27 L716.5,205.28 L717,205.28 L717.5,205.28 L718,205.29 L718.5,205.29 L719,205.29 L719.5,205.3 L720,205.3 L720.5,205.3 L721,205.3 L721.5,205.3 L722,205.3 L722.5,205.3 L723,205.31 L723.5,205.31 L724,205.31 L724.5,205.31 L725,205.31 L725.5,205.31 L726,205.31 L726.5,205.31 L727,205.31 L727.5,205.31 L728,205.31 L728.5,205.31 L729,205.31 L729.5,205.31 L730,205.31 L730.5,205.31 L731,205.31 L731.5,205.31 L732,205.31 L732.5,205.31 L733,205.31 L733.5,205.31 L734,205.31 L734.5,205.31 L735,205.31 L735.5,205.31 L736,205.31 L736.5,205.31 L737,205.31 L737.5,205.31 L738,205.31 L738.5,205.31 L739,205.31 L739.5,205.31 L740,205.31 L740.5,205.31 L741,205.31 L741.5,205.31 L742,205.31 L742.5,205.31 L743,205.31 L743.5,205.31 L744,205.31 L744.5,205.31 L745,205.31 L745.5,205.31 L746,205.31 L746.5,205.31 L747,205.31 L747.5,205.31 L748,205.31 L748.5,205.31 L749,205.31 L749.5,205.31 L750,205.31 L750.5,205.31 L751,205.31 L751.5,205.31 L752,205.31 L752.5,205.31 L753,205.31 L753.5,205.31 L754,205.31 L754.5,205.31 L755,205.31 L755.5,205.31 L756,205.31 L756.5,205.31 L757,205.31 L757.5,205.31 L758,205.31 L758.5,205.31 L759,205.31 L759.5,205.31 L760,205.31 L760.5,205.31 L761,205.31 L761.5,205.31 L762,205.31 L762.5,205.31 L763,205.31 L763.5,205.31 L764,205.31 L764.5,205.31 L765,205.31 L765.5,205.31 L766,205.31 L766.5,205.31 L767,205.31 L767.5,205.31 L768,205.31 L768.5,205.31 L769,205.31 L769.5,205.31 L770,205.31 L770.5,205.31 L771,205.31 L771.5,205.31 L772,205.31 L772.5,205.31 L773,205.31 L773.5,205.31 L774,205.31 L774.5,205.31 L775,205.31 L775.5,205.3 L776,205.3 L776.5,205.3 L777,205.3 L777.5,205.3 L778,205.3 L778.5,205.3 L779,205.3 L779.5,205.3 L780,205.3 L780.5,205.3 L781,205.3" fill="none" stroke="#ed7d31" stroke-width="2.2" stroke-linejoin="round" />
<path d="M450,222.5 L450.5,222.5 L451,222.5 L451.5,222.5 L452,222.5 L452.5,222.5 L453,222.5 L453.5,222.5 L454,222.5 L454.5,222.5 L455,222.5 L455.5,222.5 L456,222.5 L456.5,222.5 L457,222.5 L457.5,222.5 L458,222.5 L458.5,222.5 L459,222.5 L459.5,222.5 L460,222.5 L460.5,222.5 L461,222.5 L461.5,222.5 L462,222.5 L462.5,222.5 L463,222.5 L463.5,222.5 L464,222.5 L464.5,222.5 L465,222.5 L465.5,222.5 L466,222.5 L466.5,222.5 L467,222.5 L467.5,222.5 L468,222.5 L468.5,222.5 L469,222.5 L469.5,222.5 L470,222.5 L470.5,222.5 L471,222.5 L471.5,222.5 L472,222.5 L472.5,222.5 L473,222.5 L473.5,222.5 L474,222.5 L474.5,222.5 L475,222.5 L475.5,222.5 L476,222.5 L476.5,222.5 L477,222.51 L477.5,222.51 L478,222.51 L478.5,222.51 L479,222.51 L479.5,222.51 L480,222.51 L480.5,222.51 L481,222.51 L481.5,222.51 L482,222.51 L482.5,222.51 L483,222.51 L483.5,222.51 L484,222.51 L484.5,222.51 L485,222.51 L485.5,222.51 L486,222.51 L486.5,222.51 L487,222.52 L487.5,222.52 L488,222.52 L488.5,222.52 L489,222.52 L489.5,222.52 L490,222.52 L490.5,222.52 L491,222.52 L491.5,222.52 L492,222.52 L492.5,222.52 L493,222.52 L493.5,222.52 L494,222.52 L494.5,222.52 L495,222.52 L495.5,222.53 L496,222.53 L496.5,222.53 L497,222.53 L497.5,222.53 L498,222.53 L498.5,222.53 L499,222.53 L499.5,222.53 L500,222.53 L500.5,222.53 L501,222.53 L501.5,222.53 L502,222.53 L502.5,222.53 L503,222.53 L503.5,222.53 L504,222.54 L504.5,222.54 L505,222.54 L505.5,222.54 L506,222.54 L506.5,222.54 L507,222.54 L507.5,222.54 L508,222.54 L508.5,222.54 L509,222.54 L509.5,222.54 L510,222.54 L510.5,222.54 L511,222.54 L511.5,222.54 L512,222.54 L512.5,222.54 L513,222.54 L513.5,222.54 L514,222.55 L514.5,222.55 L515,222.55 L515.5,222.55 L516,222.55 L516.5,222.55 L517,222.55 L517.5,222.55 L518,222.55 L518.5,222.55 L519,222.55 L519.5,222.55 L520,222.55 L520.5,222.55 L521,222.55 L521.5,222.55 L522,222.55 L522.5,222.49 L523,222.4 L523.5,222.31 L524,222.23 L524.5,222.13 L525,222.04 L525.5,221.95 L526,221.85 L526.5,221.75 L527,221.65 L527.5,221.54 L528,221.43 L528.5,221.32 L529,221.21 L529.5,221.09 L530,220.97 L530.5,220.85 L531,220.73 L531.5,220.6 L532,220.46 L532.5,220.33 L533,220.19 L533.5,220.04 L534,219.9 L534.5,219.74 L535,219.59 L535.5,219.43 L536,219.26 L536.5,219.09 L537,218.92 L537.5,218.74 L538,218.55 L538.5,218.36 L539,218.16 L539.5,217.95 L540,217.74 L540.5,217.52 L541,217.3 L541.5,217.06 L542,216.82 L542.5,216.57 L543,216.31 L543.5,216.03 L544,215.75 L544.5,215.46 L545,215.16 L545.5,214.84 L546,214.51 L546.5,214.17 L547,213.81 L547.5,213.58 L548,213.38 L548.5,213.17 L549,212.95 L549.5,212.72 L550,212.47 L550.5,212.22 L551,211.96 L551.5,211.68 L552,211.39 L552.5,211.09 L553,210.77 L553.5,210.44 L554,210.09 L554.5,209.73 L555,209.35 L555.5,208.95 L556,208.53 L556.5,208.09 L557,207.63 L557.5,207.15 L558,206.65 L558.5,206.12 L559,205.57 L559.5,204.99 L560,204.38 L560.5,203.75 L561,203.08 L561.5,202.39 L562,201.67 L562.5,200.91 L563,200.12 L563.5,199.3 L564,198.43 L564.5,197.54 L565,196.6 L565.5,195.63 L566,194.61 L566.5,193.55 L567,192.46 L567.5,191.31 L568,190.13 L568.5,188.9 L569,187.62 L569.5,186.29 L570,184.92 L570.5,183.5 L571,182.03 L571.5,180.51 L572,178.94 L572.5,177.32 L573,175.65 L573.5,173.93 L574,172.16 L574.5,170.33 L575,168.46 L575.5,166.53 L576,164.55 L576.5,162.52 L577,160.44 L577.5,158.31 L578,156.14 L578.5,153.91 L579,151.64 L579.5,149.33 L580,146.97 L580.5,144.57 L581,142.13 L581.5,139.65 L582,137.13 L582.5,134.58 L583,132 L583.5,129.39 L584,126.76 L584.5,124.1 L585,121.42 L585.5,118.73 L586,116.02 L586.5,113.31 L587,110.59 L587.5,107.87 L588,105.16 L588.5,102.46 L589,99.77 L589.5,97.1 L590,94.46 L590.5,91.85 L591,89.28 L591.5,86.75 L592,84.27 L592.5,81.84 L593,79.48 L593.5,77.19 L594,74.97 L594.5,72.83 L595,70.79 L595.5,68.85 L596,67.01 L596.5,65.28 L597,63.67 L597.5,62.18 L598,60.82 L598.5,59.61 L599,58.53 L599.5,57.6 L600,56.82 L600.5,56.19 L601,55.72 L601.5,55.41 L602,55.25 L602.5,55.26 L603,55.43 L603.5,55.75 L604,56.23 L604.5,56.86 L605,57.64 L605.5,58.58 L606,59.66 L606.5,60.88 L607,62.23 L607.5,63.71 L608,65.32 L608.5,67.04 L609,68.88 L609.5,70.83 L610,72.89 L610.5,75.05 L611,77.3 L611.5,79.65 L612,82.08 L612.5,84.58 L613,87.16 L613.5,89.8 L614,92.5 L614.5,95.25 L615,98.05 L615.5,100.88 L616,103.75 L616.5,106.64 L617,109.55 L617.5,112.48 L618,115.41 L618.5,118.35 L619,121.29 L619.5,124.21 L620,127.12 L620.5,130 L621,132.85 L621.5,135.66 L622,138.44 L622.5,141.19 L623,143.89 L623.5,146.55 L624,149.17 L624.5,151.74 L625,154.26 L625.5,156.73 L626,159.14 L626.5,161.5 L627,163.79 L627.5,166.02 L628,168.19 L628.5,170.29 L629,172.31 L629.5,174.27 L630,176.16 L630.5,177.97 L631,179.71 L631.5,181.38 L632,182.97 L632.5,184.49 L633,185.93 L633.5,187.29 L634,188.59 L634.5,189.81 L635,190.97 L635.5,192.07 L636,193.1 L636.5,194.08 L637,195.01 L637.5,195.88 L638,196.7 L638.5,197.48 L639,198.2 L639.5,198.88 L640,199.51 L640.5,200.09 L641,200.64 L641.5,201.14 L642,201.61 L642.5,202.04 L643,202.43 L643.5,202.79 L644,203.12 L644.5,203.43 L645,203.7 L645.5,203.95 L646,204.17 L646.5,204.37 L647,204.55 L647.5,204.7 L648,204.84 L648.5,204.96 L649,205.06 L649.5,205.15 L650,205.23 L650.5,205.3 L651,205.36 L651.5,205.41 L652,205.45 L652.5,205.49 L653,205.52 L653.5,205.54 L654,205.55 L654.5,205.56 L655,205.57 L655.5,205.57 L656,205.56 L656.5,205.55 L657,205.55 L657.5,205.53 L658,205.52 L658.5,205.51 L659,205.49 L659.5,205.48 L660,205.46 L660.5,205.45 L661,205.44 L661.5,205.42 L662,205.41 L662.5,205.4 L663,205.39 L663.5,205.39 L664,205.38 L664.5,205.38 L665,205.37 L665.5,205.37 L666,205.37 L666.5,205.37 L667,205.37 L667.5,205.37 L668,205.37 L668.5,205.37 L669,205.37 L669.5,205.37 L670,205.37 L670.5,205.38 L671,205.38 L671.5,205.38 L672,205.38 L672.5,205.38 L673,205.38 L673.5,205.38 L674,205.38 L674.5,205.38 L675,205.38 L675.5,205.38 L676,205.38 L676.5,205.38 L677,205.38 L677.5,205.37 L678,205.37 L678.5,205.37 L679,205.37 L679.5,205.37 L680,205.37 L680.5,205.37 L681,205.37 L681.5,205.37 L682,205.37 L682.5,205.36 L683,205.36 L683.5,205.36 L684,205.36 L684.5,205.36 L685,205.36 L685.5,205.36 L686,205.36 L686.5,205.36 L687,205.36 L687.5,205.35 L688,205.35 L688.5,205.35 L689,205.35 L689.5,205.35 L690,205.35 L690.5,205.35 L691,205.35 L691.5,205.35 L692,205.35 L692.5,205.35 L693,205.34 L693.5,205.34 L694,205.34 L694.5,205.34 L695,205.34 L695.5,205.34 L696,205.34 L696.5,205.34 L697,205.34 L697.5,205.34 L698,205.34 L698.5,205.34 L699,205.34 L699.5,205.34 L700,205.33 L700.5,205.33 L701,205.33 L701.5,205.33 L702,205.33 L702.5,205.33 L703,205.33 L703.5,205.33 L704,205.33 L704.5,205.33 L705,205.33 L705.5,205.33 L706,205.33 L706.5,205.33 L707,205.33 L707.5,205.33 L708,205.33 L708.5,205.33 L709,205.33 L709.5,205.33 L710,205.32 L710.5,205.32 L711,205.32 L711.5,205.32 L712,205.32 L712.5,205.32 L713,205.32 L713.5,205.32 L714,205.32 L714.5,205.32 L715,205.32 L715.5,205.32 L716,205.32 L716.5,205.32 L717,205.32 L717.5,205.32 L718,205.32 L718.5,205.32 L719,205.32 L719.5,205.32 L720,205.32 L720.5,205.32 L721,205.32 L721.5,205.32 L722,205.32 L722.5,205.32 L723,205.32 L723.5,205.32 L724,205.32 L724.5,205.32 L725,205.32 L725.5,205.32 L726,205.32 L726.5,205.32 L727,205.32 L727.5,205.32 L728,205.32 L728.5,205.32 L729,205.32 L729.5,205.32 L730,205.32 L730.5,205.32 L731,205.32 L731.5,205.32 L732,205.31 L732.5,205.31 L733,205.31 L733.5,205.31 L734,205.31 L734.5,205.31 L735,205.31 L735.5,205.31 L736,205.31 L736.5,205.31 L737,205.31 L737.5,205.31 L738,205.31 L738.5,205.31 L739,205.31 L739.5,205.31 L740,205.31 L740.5,205.31 L741,205.31 L741.5,205.31 L742,205.31 L742.5,205.31 L743,205.31 L743.5,205.31 L744,205.31 L744.5,205.31 L745,205.31 L745.5,205.31 L746,205.31 L746.5,205.31 L747,205.31 L747.5,205.31 L748,205.31 L748.5,205.31 L749,205.31 L749.5,205.31 L750,205.31 L750.5,205.31 L751,205.31 L751.5,205.31 L752,205.31 L752.5,205.31 L753,205.31 L753.5,205.31 L754,205.31 L754.5,205.31 L755,205.31 L755.5,205.31 L756,205.31 L756.5,205.31 L757,205.31 L757.5,205.31 L758,205.31 L758.5,205.31 L759,205.31 L759.5,205.31 L760,205.31 L760.5,205.31 L761,205.31 L761.5,205.31 L762,205.31 L762.5,205.31 L763,205.31 L763.5,205.31 L764,205.31 L764.5,205.31 L765,205.31 L765.5,205.31 L766,205.31 L766.5,205.31 L767,205.31 L767.5,205.31 L768,205.31 L768.5,205.31 L769,205.31 L769.5,205.31 L770,205.31 L770.5,205.31 L771,205.31 L771.5,205.31 L772,205.31 L772.5,205.31 L773,205.31 L773.5,205.31 L774,205.31 L774.5,205.31 L775,205.31 L775.5,205.3 L776,205.3 L776.5,205.3 L777,205.3 L777.5,205.3 L778,205.3 L778.5,205.3 L779,205.3 L779.5,205.3 L780,205.3 L780.5,205.3 L781,205.3" fill="none" stroke="#00b050" stroke-width="2.2" stroke-linejoin="round" />
<path d="M450,222.5 L450.5,222.5 L451,222.5 L451.5,222.5 L452,222.5 L452.5,222.5 L453,222.5 L453.5,222.5 L454,222.5 L454.5,222.5 L455,222.5 L455.5,222.5 L456,222.5 L456.5,222.5 L457,222.5 L457.5,222.5 L458,222.5 L458.5,222.5 L459,222.5 L459.5,222.5 L460,222.5 L460.5,222.5 L461,222.5 L461.5,222.5 L462,222.5 L462.5,222.5 L463,222.5 L463.5,222.5 L464,222.5 L464.5,222.5 L465,222.5 L465.5,222.5 L466,222.5 L466.5,222.5 L467,222.5 L467.5,222.5 L468,222.5 L468.5,222.5 L469,222.5 L469.5,222.5 L470,222.5 L470.5,222.5 L471,222.5 L471.5,222.5 L472,222.5 L472.5,222.5 L473,222.5 L473.5,222.5 L474,222.5 L474.5,222.5 L475,222.5 L475.5,222.5 L476,222.5 L476.5,222.5 L477,222.51 L477.5,222.51 L478,222.51 L478.5,222.51 L479,222.51 L479.5,222.51 L480,222.51 L480.5,222.51 L481,222.51 L481.5,222.51 L482,222.51 L482.5,222.51 L483,222.51 L483.5,222.51 L484,222.51 L484.5,222.51 L485,222.51 L485.5,222.51 L486,222.51 L486.5,222.51 L487,222.52 L487.5,222.52 L488,222.52 L488.5,222.52 L489,222.52 L489.5,222.52 L490,222.52 L490.5,222.52 L491,222.52 L491.5,222.52 L492,222.52 L492.5,222.52 L493,222.52 L493.5,222.52 L494,222.52 L494.5,222.52 L495,222.52 L495.5,222.53 L496,222.53 L496.5,222.53 L497,222.53 L497.5,222.53 L498,222.53 L498.5,222.53 L499,222.53 L499.5,222.53 L500,222.53 L500.5,222.53 L501,222.53 L501.5,222.53 L502,222.53 L502.5,222.53 L503,222.53 L503.5,222.53 L504,222.54 L504.5,222.54 L505,222.54 L505.5,222.54 L506,222.54 L506.5,222.54 L507,222.54 L507.5,222.54 L508,222.54 L508.5,222.54 L509,222.54 L509.5,222.54 L510,222.54 L510.5,222.54 L511,222.54 L511.5,222.54 L512,222.54 L512.5,222.54 L513,222.54 L513.5,222.54 L514,222.55 L514.5,222.55 L515,222.55 L515.5,222.55 L516,222.55 L516.5,222.55 L517,222.55 L517.5,222.55 L518,222.55 L518.5,222.55 L519,222.55 L519.5,222.55 L520,222.55 L520.5,222.55 L521,222.55 L521.5,222.55 L522,222.55 L522.5,222.55 L523,222.55 L523.5,222.55 L524,222.55 L524.5,222.55 L525,222.55 L525.5,222.55 L526,222.55 L526.5,222.55 L527,222.55 L527.5,222.55 L528,222.55 L528.5,222.55 L529,222.55 L529.5,222.55 L530,222.55 L530.5,222.55 L531,222.55 L531.5,222.55 L532,222.55 L532.5,222.55 L533,222.55 L533.5,222.55 L534,222.55 L534.5,222.55 L535,222.55 L535.5,222.55 L536,222.55 L536.5,222.55 L537,222.55 L537.5,222.55 L538,222.55 L538.5,222.55 L539,222.55 L539.5,222.55 L540,222.55 L540.5,222.55 L541,222.55 L541.5,222.55 L542,222.55 L542.5,222.55 L543,222.55 L543.5,222.55 L544,222.55 L544.5,222.55 L545,222.55 L545.5,222.54 L546,222.51 L546.5,222.48 L547,222.44 L547.5,222.38 L548,222.32 L548.5,222.26 L549,222.19 L549.5,222.11 L550,222.03 L550.5,221.94 L551,221.85 L551.5,221.76 L552,221.66 L552.5,221.57 L553,221.47 L553.5,221.38 L554,221.28 L554.5,221.19 L555,221.1 L555.5,221.02 L556,220.93 L556.5,220.85 L557,220.77 L557.5,220.69 L558,220.61 L558.5,220.53 L559,220.44 L559.5,220.36 L560,220.27 L560.5,220.19 L561,220.1 L561.5,220.01 L562,219.93 L562.5,219.84 L563,219.75 L563.5,219.66 L564,219.57 L564.5,219.48 L565,219.39 L565.5,219.3 L566,219.21 L566.5,219.12 L567,219.03 L567.5,218.94 L568,218.84 L568.5,218.75 L569,218.66 L569.5,218.57 L570,218.47 L570.5,218.38 L571,218.29 L571.5,218.19 L572,218.1 L572.5,218 L573,217.91 L573.5,217.82 L574,217.72 L574.5,217.62 L575,217.53 L575.5,217.43 L576,217.34 L576.5,217.24 L577,217.14 L577.5,217.05 L578,216.95 L578.5,216.85 L579,216.75 L579.5,216.65 L580,216.56 L580.5,216.46 L581,216.36 L581.5,216.26 L582,216.16 L582.5,216.05 L583,215.95 L583.5,215.85 L584,215.75 L584.5,215.64 L585,215.54 L585.5,215.43 L586,215.33 L586.5,215.23 L587,215.12 L587.5,215.02 L588,214.91 L588.5,214.81 L589,214.7 L589.5,214.6 L590,214.5 L590.5,214.39 L591,214.29 L591.5,214.18 L592,214.07 L592.5,213.96 L593,213.85 L593.5,213.74 L594,213.63 L594.5,213.52 L595,213.41 L595.5,213.3 L596,213.19 L596.5,213.08 L597,212.96 L597.5,212.85 L598,212.73 L598.5,212.61 L599,212.49 L599.5,212.37 L600,212.24 L600.5,212.11 L601,211.97 L601.5,211.83 L602,211.68 L602.5,211.53 L603,211.37 L603.5,211.2 L604,211.01 L604.5,210.82 L605,210.6 L605.5,210.38 L606,210.16 L606.5,209.92 L607,209.66 L607.5,209.4 L608,209.13 L608.5,208.84 L609,208.55 L609.5,208.26 L610,207.95 L610.5,207.63 L611,207.3 L611.5,206.95 L612,206.59 L612.5,206.21 L613,205.81 L613.5,205.4 L614,204.96 L614.5,204.51 L615,204.05 L615.5,203.57 L616,203.08 L616.5,202.58 L617,202.07 L617.5,201.56 L618,201.03 L618.5,200.5 L619,199.95 L619.5,199.38 L620,198.8 L620.5,198.2 L621,197.6 L621.5,197.01 L622,196.42 L622.5,195.84 L623,195.28 L623.5,194.73 L624,194.2 L624.5,193.67 L625,193.16 L625.5,192.67 L626,192.19 L626.5,191.72 L627,191.27 L627.5,190.83 L628,190.4 L628.5,189.99 L629,189.59 L629.5,189.21 L630,188.84 L630.5,188.48 L631,188.14 L631.5,187.82 L632,187.51 L632.5,187.21 L633,186.91 L633.5,186.63 L634,186.37 L634.5,186.11 L635,185.88 L635.5,185.66 L636,185.46 L636.5,185.28 L637,185.12 L637.5,184.99 L638,184.88 L638.5,184.8 L639,184.74 L639.5,184.71 L640,184.7 L640.5,184.72 L641,184.76 L641.5,184.82 L642,184.89 L642.5,184.99 L643,185.1 L643.5,185.22 L644,185.37 L644.5,185.52 L645,185.7 L645.5,185.89 L646,186.1 L646.5,186.32 L647,186.56 L647.5,186.82 L648,187.09 L648.5,187.38 L649,187.68 L649.5,188 L650,188.33 L650.5,188.69 L651,189.07 L651.5,189.47 L652,189.88 L652.5,190.32 L653,190.76 L653.5,191.21 L654,191.66 L654.5,192.12 L655,192.57 L655.5,193.03 L656,193.51 L656.5,193.99 L657,194.48 L657.5,194.98 L658,195.47 L658.5,195.96 L659,196.44 L659.5,196.9 L660,197.34 L660.5,197.78 L661,198.2 L661.5,198.63 L662,199.04 L662.5,199.44 L663,199.84 L663.5,200.22 L664,200.58 L664.5,200.93 L665,201.26 L665.5,201.57 L666,201.87 L666.5,202.15 L667,202.42 L667.5,202.67 L668,202.9 L668.5,203.12 L669,203.33 L669.5,203.52 L670,203.7 L670.5,203.86 L671,204.01 L671.5,204.15 L672,204.27 L672.5,204.39 L673,204.49 L673.5,204.59 L674,204.68 L674.5,204.76 L675,204.84 L675.5,204.91 L676,204.98 L676.5,205.05 L677,205.11 L677.5,205.16 L678,205.2 L678.5,205.24 L679,205.28 L679.5,205.3 L680,205.33 L680.5,205.34 L681,205.36 L681.5,205.36 L682,205.37 L682.5,205.37 L683,205.36 L683.5,205.36 L684,205.36 L684.5,205.36 L685,205.36 L685.5,205.36 L686,205.36 L686.5,205.36 L687,205.36 L687.5,205.35 L688,205.35 L688.5,205.35 L689,205.35 L689.5,205.35 L690,205.35 L690.5,205.35 L691,205.35 L691.5,205.35 L692,205.35 L692.5,205.35 L693,205.34 L693.5,205.34 L694,205.34 L694.5,205.34 L695,205.34 L695.5,205.34 L696,205.34 L696.5,205.34 L697,205.34 L697.5,205.34 L698,205.34 L698.5,205.34 L699,205.34 L699.5,205.34 L700,205.33 L700.5,205.33 L701,205.33 L701.5,205.33 L702,205.33 L702.5,205.33 L703,205.33 L703.5,205.33 L704,205.33 L704.5,205.33 L705,205.33 L705.5,205.33 L706,205.33 L706.5,205.33 L707,205.33 L707.5,205.33 L708,205.33 L708.5,205.33 L709,205.33 L709.5,205.33 L710,205.32 L710.5,205.32 L711,205.32 L711.5,205.32 L712,205.32 L712.5,205.32 L713,205.32 L713.5,205.32 L714,205.32 L714.5,205.32 L715,205.32 L715.5,205.32 L716,205.32 L716.5,205.32 L717,205.32 L717.5,205.32 L718,205.32 L718.5,205.32 L719,205.32 L719.5,205.32 L720,205.32 L720.5,205.32 L721,205.32 L721.5,205.32 L722,205.32 L722.5,205.32 L723,205.32 L723.5,205.32 L724,205.32 L724.5,205.32 L725,205.32 L725.5,205.32 L726,205.32 L726.5,205.32 L727,205.32 L727.5,205.32 L728,205.32 L728.5,205.32 L729,205.32 L729.5,205.32 L730,205.32 L730.5,205.32 L731,205.32 L731.5,205.32 L732,205.31 L732.5,205.31 L733,205.31 L733.5,205.31 L734,205.31 L734.5,205.31 L735,205.31 L735.5,205.31 L736,205.31 L736.5,205.31 L737,205.31 L737.5,205.31 L738,205.31 L738.5,205.31 L739,205.31 L739.5,205.31 L740,205.31 L740.5,205.31 L741,205.31 L741.5,205.31 L742,205.31 L742.5,205.31 L743,205.31 L743.5,205.31 L744,205.31 L744.5,205.31 L745,205.31 L745.5,205.31 L746,205.31 L746.5,205.31 L747,205.31 L747.5,205.31 L748,205.31 L748.5,205.31 L749,205.31 L749.5,205.31 L750,205.31 L750.5,205.31 L751,205.31 L751.5,205.31 L752,205.31 L752.5,205.31 L753,205.31 L753.5,205.31 L754,205.31 L754.5,205.31 L755,205.31 L755.5,205.31 L756,205.31 L756.5,205.31 L757,205.31 L757.5,205.31 L758,205.31 L758.5,205.31 L759,205.31 L759.5,205.31 L760,205.31 L760.5,205.31 L761,205.31 L761.5,205.31 L762,205.31 L762.5,205.31 L763,205.31 L763.5,205.31 L764,205.31 L764.5,205.31 L765,205.31 L765.5,205.31 L766,205.31 L766.5,205.31 L767,205.31 L767.5,205.31 L768,205.31 L768.5,205.31 L769,205.31 L769.5,205.31 L770,205.31 L770.5,205.31 L771,205.31 L771.5,205.31 L772,205.31 L772.5,205.31 L773,205.31 L773.5,205.31 L774,205.31 L774.5,205.31 L775,205.31 L775.5,205.3 L776,205.3 L776.5,205.3 L777,205.3 L777.5,205.3 L778,205.3 L778.5,205.3 L779,205.3 L779.5,205.3 L780,205.3 L780.5,205.3 L781,205.3" fill="none" stroke="#ff0000" stroke-width="2.2" stroke-linejoin="round" />
<path d="M450,223.8 L450.5,223.8 L451,223.8 L451.5,223.8 L452,223.8 L452.5,223.8 L453,223.8 L453.5,223.8 L454,223.8 L454.5,223.8 L455,223.8 L455.5,223.8 L456,223.8 L456.5,223.8 L457,223.8 L457.5,223.8 L458,223.8 L458.5,223.8 L459,223.8 L459.5,223.8 L460,223.8 L460.5,223.8 L461,223.8 L461.5,223.8 L462,223.8 L462.5,223.8 L463,223.8 L463.5,223.8 L464,223.8 L464.5,223.8 L465,223.8 L465.5,223.8 L466,223.8 L466.5,223.8 L467,223.8 L467.5,223.8 L468,223.8 L468.5,223.8 L469,223.8 L469.5,223.8 L470,223.8 L470.5,223.8 L471,223.8 L471.5,223.8 L472,223.8 L472.5,223.8 L473,223.8 L473.5,223.8 L474,223.8 L474.5,223.8 L475,223.8 L475.5,223.8 L476,223.8 L476.5,223.8 L477,223.81 L477.5,223.81 L478,223.81 L478.5,223.81 L479,223.81 L479.5,223.81 L480,223.81 L480.5,223.81 L481,223.81 L481.5,223.81 L482,223.81 L482.5,223.81 L483,223.81 L483.5,223.81 L484,223.81 L484.5,223.81 L485,223.81 L485.5,223.81 L486,223.81 L486.5,223.81 L487,223.82 L487.5,223.82 L488,223.82 L488.5,223.82 L489,223.82 L489.5,223.82 L490,223.82 L490.5,223.82 L491,223.82 L491.5,223.82 L492,223.82 L492.5,223.82 L493,223.82 L493.5,223.82 L494,223.82 L494.5,223.82 L495,223.82 L495.5,223.83 L496,223.83 L496.5,223.83 L497,223.83 L497.5,223.83 L498,223.83 L498.5,223.83 L499,223.83 L499.5,223.83 L500,223.83 L500.5,223.83 L501,223.83 L501.5,223.83 L502,223.83 L502.5,223.83 L503,223.83 L503.5,223.83 L504,223.84 L504.5,223.84 L505,223.84 L505.5,223.84 L506,223.84 L506.5,223.84 L507,223.84 L507.5,223.84 L508,223.84 L508.5,223.84 L509,223.84 L509.5,223.84 L510,223.84 L510.5,223.84 L511,223.84 L511.5,223.84 L512,223.84 L512.5,223.84 L513,223.84 L513.5,223.84 L514,223.85 L514.5,223.85 L515,223.85 L515.5,223.85 L516,223.85 L516.5,223.85 L517,223.85 L517.5,223.85 L518,223.85 L518.5,223.85 L519,223.85 L519.5,223.85 L520,223.85 L520.5,223.85 L521,223.85 L521.5,223.85 L522,223.85 L522.5,223.85 L523,223.85 L523.5,223.85 L524,223.85 L524.5,223.85 L525,223.85 L525.5,223.85 L526,223.85 L526.5,223.85 L527,223.85 L527.5,223.85 L528,223.85 L528.5,223.85 L529,223.85 L529.5,223.85 L530,223.85 L530.5,223.85 L531,223.85 L531.5,223.85 L532,223.85 L532.5,223.85 L533,223.85 L533.5,223.85 L534,223.85 L534.5,223.85 L535,223.85 L535.5,223.85 L536,223.85 L536.5,223.85 L537,223.85 L537.5,223.85 L538,223.85 L538.5,223.85 L539,223.85 L539.5,223.85 L540,223.85 L540.5,223.85 L541,223.85 L541.5,223.85 L542,223.85 L542.5,223.85 L543,223.85 L543.5,223.85 L544,223.85 L544.5,223.85 L545,223.85 L545.5,223.85 L546,223.85 L546.5,223.85 L547,223.85 L547.5,223.85 L548,223.85 L548.5,223.85 L549,223.85 L549.5,223.85 L550,223.84 L550.5,223.84 L551,223.84 L551.5,223.84 L552,223.84 L552.5,223.84 L553,223.84 L553.5,223.84 L554,223.84 L554.5,223.84 L555,223.84 L555.5,223.84 L556,223.83 L556.5,223.83 L557,223.83 L557.5,223.83 L558,223.83 L558.5,223.83 L559,223.83 L559.5,223.83 L560,223.83 L560.5,223.83 L561,223.82 L561.5,223.82 L562,223.82 L562.5,223.82 L563,223.82 L563.5,223.82 L564,223.82 L564.5,223.81 L565,223.81 L565.5,223.81 L566,223.81 L566.5,223.81 L567,223.81 L567.5,223.81 L568,223.8 L568.5,223.8 L569,223.8 L569.5,223.8 L570,223.8 L570.5,223.8 L571,223.79 L571.5,223.79 L572,223.79 L572.5,223.79 L573,223.79 L573.5,223.78 L574,223.78 L574.5,223.78 L575,223.78 L575.5,223.78 L576,223.77 L576.5,223.77 L577,223.77 L577.5,223.77 L578,223.77 L578.5,223.76 L579,223.76 L579.5,223.76 L580,223.76 L580.5,223.75 L581,223.75 L581.5,223.75 L582,223.75 L582.5,223.74 L583,223.74 L583.5,223.74 L584,223.74 L584.5,223.73 L585,223.73 L585.5,223.73 L586,223.72 L586.5,223.72 L587,223.72 L587.5,223.72 L588,223.71 L588.5,223.71 L589,223.71 L589.5,223.7 L590,223.7 L590.5,223.7 L591,223.69 L591.5,223.68 L592,223.67 L592.5,223.66 L593,223.65 L593.5,223.63 L594,223.62 L594.5,223.6 L595,223.58 L595.5,223.56 L596,223.53 L596.5,223.51 L597,223.48 L597.5,223.46 L598,223.43 L598.5,223.4 L599,223.37 L599.5,223.33 L600,223.3 L600.5,223.26 L601,223.23 L601.5,223.19 L602,223.15 L602.5,223.11 L603,223.07 L603.5,223.03 L604,222.98 L604.5,222.94 L605,222.89 L605.5,222.85 L606,222.8 L606.5,222.75 L607,222.68 L607.5,222.61 L608,222.53 L608.5,222.43 L609,222.33 L609.5,222.23 L610,222.11 L610.5,221.99 L611,221.87 L611.5,221.73 L612,221.6 L612.5,221.46 L613,221.31 L613.5,221.16 L614,221.01 L614.5,220.85 L615,220.68 L615.5,220.51 L616,220.34 L616.5,220.17 L617,219.99 L617.5,219.81 L618,219.63 L618.5,219.45 L619,219.27 L619.5,219.09 L620,218.9 L620.5,218.7 L621,218.5 L621.5,218.3 L622,218.09 L622.5,217.88 L623,217.68 L623.5,217.47 L624,217.28 L624.5,217.08 L625,216.9 L625.5,216.72 L626,216.55 L626.5,216.38 L627,216.22 L627.5,216.06 L628,215.9 L628.5,215.74 L629,215.59 L629.5,215.43 L630,215.27 L630.5,215.11 L631,214.94 L631.5,214.78 L632,214.61 L632.5,214.43 L633,214.24 L633.5,214.05 L634,213.86 L634.5,213.66 L635,213.46 L635.5,213.26 L636,213.06 L636.5,212.86 L637,212.67 L637.5,212.48 L638,212.3 L638.5,212.12 L639,211.95 L639.5,211.77 L640,211.6 L640.5,211.43 L641,211.26 L641.5,211.1 L642,210.93 L642.5,210.77 L643,210.61 L643.5,210.45 L644,210.3 L644.5,210.15 L645,210 L645.5,209.85 L646,209.71 L646.5,209.57 L647,209.42 L647.5,209.28 L648,209.15 L648.5,209.01 L649,208.88 L649.5,208.76 L650,208.63 L650.5,208.52 L651,208.41 L651.5,208.3 L652,208.2 L652.5,208.1 L653,208.01 L653.5,207.92 L654,207.84 L654.5,207.75 L655,207.67 L655.5,207.59 L656,207.52 L656.5,207.45 L657,207.38 L657.5,207.31 L658,207.25 L658.5,207.2 L659,207.14 L659.5,207.09 L660,207.04 L660.5,207 L661,206.96 L661.5,206.92 L662,206.89 L662.5,206.86 L663,206.84 L663.5,206.81 L664,206.79 L664.5,206.78 L665,206.76 L665.5,206.75 L666,206.74 L666.5,206.73 L667,206.72 L667.5,206.72 L668,206.71 L668.5,206.71 L669,206.7 L669.5,206.7 L670,206.7 L670.5,206.7 L671,206.7 L671.5,206.7 L672,206.69 L672.5,206.69 L673,206.69 L673.5,206.69 L674,206.69 L674.5,206.69 L675,206.68 L675.5,206.68 L676,206.68 L676.5,206.68 L677,206.68 L677.5,206.68 L678,206.68 L678.5,206.67 L679,206.67 L679.5,206.67 L680,206.67 L680.5,206.67 L681,206.67 L681.5,206.67 L682,206.67 L682.5,206.67 L683,206.66 L683.5,206.66 L684,206.66 L684.5,206.66 L685,206.66 L685.5,206.66 L686,206.66 L686.5,206.66 L687,206.66 L687.5,206.65 L688,206.65 L688.5,206.65 L689,206.65 L689.5,206.65 L690,206.65 L690.5,206.65 L691,206.65 L691.5,206.65 L692,206.65 L692.5,206.65 L693,206.64 L693.5,206.64 L694,206.64 L694.5,206.64 L695,206.64 L695.5,206.64 L696,206.64 L696.5,206.64 L697,206.64 L697.5,206.64 L698,206.64 L698.5,206.64 L699,206.64 L699.5,206.64 L700,206.63 L700.5,206.63 L701,206.63 L701.5,206.63 L702,206.63 L702.5,206.63 L703,206.63 L703.5,206.63 L704,206.63 L704.5,206.63 L705,206.63 L705.5,206.63 L706,206.63 L706.5,206.63 L707,206.63 L707.5,206.63 L708,206.63 L708.5,206.63 L709,206.63 L709.5,206.63 L710,206.62 L710.5,206.62 L711,206.62 L711.5,206.62 L712,206.62 L712.5,206.62 L713,206.62 L713.5,206.62 L714,206.62 L714.5,206.62 L715,206.62 L715.5,206.62 L716,206.62 L716.5,206.62 L717,206.62 L717.5,206.62 L718,206.62 L718.5,206.62 L719,206.62 L719.5,206.62 L720,206.62 L720.5,206.62 L721,206.62 L721.5,206.62 L722,206.62 L722.5,206.62 L723,206.62 L723.5,206.62 L724,206.62 L724.5,206.62 L725,206.62 L725.5,206.62 L726,206.62 L726.5,206.62 L727,206.62 L727.5,206.62 L728,206.62 L728.5,206.62 L729,206.62 L729.5,206.62 L730,206.62 L730.5,206.62 L731,206.62 L731.5,206.62 L732,206.61 L732.5,206.61 L733,206.61 L733.5,206.61 L734,206.61 L734.5,206.61 L735,206.61 L735.5,206.61 L736,206.61 L736.5,206.61 L737,206.61 L737.5,206.61 L738,206.61 L738.5,206.61 L739,206.61 L739.5,206.61 L740,206.61 L740.5,206.61 L741,206.61 L741.5,206.61 L742,206.61 L742.5,206.61 L743,206.61 L743.5,206.61 L744,206.61 L744.5,206.61 L745,206.61 L745.5,206.61 L746,206.61 L746.5,206.61 L747,206.61 L747.5,206.61 L748,206.61 L748.5,206.61 L749,206.61 L749.5,206.61 L750,206.61 L750.5,206.61 L751,206.61 L751.5,206.61 L752,206.61 L752.5,206.61 L753,206.61 L753.5,206.61 L754,206.61 L754.5,206.61 L755,206.61 L755.5,206.61 L756,206.61 L756.5,206.61 L757,206.61 L757.5,206.61 L758,206.61 L758.5,206.61 L759,206.61 L759.5,206.61 L760,206.61 L760.5,206.61 L761,206.61 L761.5,206.61 L762,206.61 L762.5,206.61 L763,206.61 L763.5,206.61 L764,206.61 L764.5,206.61 L765,206.61 L765.5,206.61 L766,206.61 L766.5,206.61 L767,206.61 L767.5,206.61 L768,206.61 L768.5,206.61 L769,206.61 L769.5,206.61 L770,206.61 L770.5,206.61 L771,206.61 L771.5,206.61 L772,206.61 L772.5,206.61 L773,206.61 L773.5,206.61 L774,206.61 L774.5,206.61 L775,206.61 L775.5,206.6 L776,206.6 L776.5,206.6 L777,206.6 L777.5,206.6 L778,206.6 L778.5,206.6 L779,206.6 L779.5,206.6 L780,206.6 L780.5,206.6 L781,206.6" fill="none" stroke="#4472c4" stroke-width="1.3" stroke-linejoin="round" />
<line x1="633.8" y1="16.4" x2="664.2" y2="16.4" stroke="#000" stroke-width="2.2" stroke-dasharray="8.8 6.2"/>
<text x="667" y="20.4" font-size="11.35" class="r" text-anchor="start" >Cumulative Fitted Peak</text>
<line x1="633.8" y1="36.3" x2="664.2" y2="36.3" stroke="#00b050" stroke-width="2.2"/>
<text x="667" y="40.1" font-size="11.35" class="r" text-anchor="start" >C-C, C=C/ 284.6 eV</text>
<line x1="633.8" y1="54.8" x2="664.2" y2="54.8" stroke="#ed7d31" stroke-width="2.2"/>
<text x="667" y="58.9" font-size="11.35" class="r" text-anchor="start" >C-OH/ 286.4 eV</text>
<line x1="633.8" y1="74.6" x2="664.2" y2="74.6" stroke="#ff0000" stroke-width="2.2"/>
<text x="667" y="78.6" font-size="11.35" class="r" text-anchor="start" >C-N/ 285.8 ev</text>
<line x1="633.8" y1="93.7" x2="664.2" y2="93.7" stroke="#4472c4" stroke-width="1.3"/>
<text x="667" y="97.4" font-size="11.35" class="r" text-anchor="start" >Background</text>
<rect x="33" y="301" width="344" height="254.9" fill="none" stroke="#000" stroke-width="2.1"/>
<text x="32.6" y="573.7" font-size="11.4" font-weight="bold" text-anchor="middle" >394</text>
<text x="81.84" y="573.7" font-size="11.4" font-weight="bold" text-anchor="middle" >396</text>
<text x="131.08" y="573.7" font-size="11.4" font-weight="bold" text-anchor="middle" >398</text>
<text x="180.32" y="573.7" font-size="11.4" font-weight="bold" text-anchor="middle" >400</text>
<text x="229.56" y="573.7" font-size="11.4" font-weight="bold" text-anchor="middle" >402</text>
<text x="278.8" y="573.7" font-size="11.4" font-weight="bold" text-anchor="middle" >404</text>
<text x="328.04" y="573.7" font-size="11.4" font-weight="bold" text-anchor="middle" >406</text>
<text x="377.28" y="573.7" font-size="11.4" font-weight="bold" text-anchor="middle" >408</text>
<text x="150.9" y="590.8" font-size="12.52" font-weight="bold" text-anchor="start" >Binding energy (eV)</text>
<text transform="translate(9.9,417.2) rotate(-90)" font-size="12.45" font-weight="bold" text-anchor="middle">Intensity (a.u)</text>
<text x="50.6" y="323.3" font-size="15.5" class="r" text-anchor="start" >(c)</text>
<text x="48.9" y="349.2" font-size="15.7" class="r" text-anchor="start" >N 1s</text>
<path d="M34,526.99 L34.5,526.98 L35,526.97 L35.5,526.96 L36,526.96 L36.5,526.95 L37,526.94 L37.5,526.93 L38,526.93 L38.5,526.92 L39,526.91 L39.5,526.9 L40,526.9 L40.5,526.89 L41,526.88 L41.5,526.88 L42,526.87 L42.5,526.86 L43,526.85 L43.5,526.85 L44,526.84 L44.5,526.83 L45,526.82 L45.5,526.82 L46,526.81 L46.5,526.8 L47,526.8 L47.5,526.79 L48,526.78 L48.5,526.77 L49,526.77 L49.5,526.76 L50,526.75 L50.5,526.75 L51,526.74 L51.5,526.73 L52,526.72 L52.5,526.72 L53,526.71 L53.5,526.7 L54,526.7 L54.5,526.69 L55,526.68 L55.5,526.68 L56,526.67 L56.5,526.66 L57,526.65 L57.5,526.65 L58,526.64 L58.5,526.63 L59,526.63 L59.5,526.62 L60,526.61 L60.5,526.6 L61,526.6 L61.5,526.59 L62,526.58 L62.5,526.58 L63,526.57 L63.5,526.56 L64,526.55 L64.5,526.55 L65,526.54 L65.5,526.53 L66,526.53 L66.5,526.52 L67,526.51 L67.5,526.5 L68,526.5 L68.5,526.49 L69,526.48 L69.5,526.47 L70,526.47 L70.5,526.46 L71,526.45 L71.5,526.45 L72,526.44 L72.5,526.43 L73,526.42 L73.5,526.42 L74,526.41 L74.5,526.4 L75,526.39 L75.5,526.39 L76,526.38 L76.5,526.37 L77,526.36 L77.5,526.36 L78,526.35 L78.5,526.34 L79,526.33 L79.5,526.33 L80,526.32 L80.5,526.31 L81,526.3 L81.5,526.3 L82,526.29 L82.5,526.28 L83,526.27 L83.5,526.27 L84,526.26 L84.5,526.25 L85,526.24 L85.5,526.24 L86,526.23 L86.5,526.22 L87,526.21 L87.5,526.2 L88,526.2 L88.5,526.19 L89,526.18 L89.5,526.17 L90,526.16 L90.5,526.16 L91,526.15 L91.5,526.14 L92,526.13 L92.5,526.12 L93,526.12 L93.5,526.11 L94,526.1 L94.5,526.09 L95,526.08 L95.5,526.08 L96,526.07 L96.5,526.06 L97,526.05 L97.5,526.04 L98,526.03 L98.5,526.03 L99,526.02 L99.5,526.01 L100,526 L100.5,525.99 L101,525.98 L101.5,525.97 L102,525.97 L102.5,525.96 L103,525.95 L103.5,525.94 L104,525.93 L104.5,525.92 L105,525.91 L105.5,525.9 L106,525.9 L106.5,525.89 L107,525.88 L107.5,525.87 L108,525.86 L108.5,525.85 L109,525.84 L109.5,525.83 L110,525.82 L110.5,525.81 L111,525.81 L111.5,525.8 L112,525.79 L112.5,525.78 L113,525.77 L113.5,525.76 L114,525.75 L114.5,525.74 L115,525.73 L115.5,525.72 L116,525.71 L116.5,525.7 L117,525.69 L117.5,525.68 L118,525.68 L118.5,525.67 L119,525.66 L119.5,525.65 L120,525.64 L120.5,525.63 L121,525.62 L121.5,525.61 L122,525.6 L122.5,525.59 L123,525.58 L123.5,525.57 L124,525.56 L124.5,525.55 L125,525.54 L125.5,525.53 L126,525.52 L126.5,525.51 L127,525.5 L127.5,525.49 L128,525.48 L128.5,525.47 L129,525.46 L129.5,525.45 L130,525.44 L130.5,525.43 L131,525.42 L131.5,525.41 L132,525.4 L132.5,525.39 L133,525.38 L133.5,525.37 L134,525.35 L134.5,525.34 L135,525.33 L135.5,525.32 L136,525.31 L136.5,525.3 L137,525.29 L137.5,525.28 L138,525.27 L138.5,525.26 L139,525.25 L139.5,525.24 L140,525.23 L140.5,525.22 L141,525.2 L141.5,525.19 L142,525.18 L142.5,525.17 L143,525.16 L143.5,525.15 L144,525.14 L144.5,525.13 L145,525.11 L145.5,525.1 L146,525.09 L146.5,525.08 L147,525.07 L147.5,525.06 L148,525.05 L148.5,525.03 L149,525.02 L149.5,525.01 L150,525 L150.5,524.99 L151,524.98 L151.5,524.97 L152,524.95 L152.5,524.94 L153,524.93 L153.5,524.92 L154,524.91 L154.5,524.9 L155,524.89 L155.5,524.88 L156,524.87 L156.5,524.86 L157,524.85 L157.5,524.84 L158,524.83 L158.5,524.82 L159,524.81 L159.5,524.81 L160,524.8 L160.5,524.79 L161,524.78 L161.5,524.77 L162,524.76 L162.5,524.75 L163,524.74 L163.5,524.73 L164,524.72 L164.5,524.71 L165,524.7 L165.5,524.69 L166,524.68 L166.5,524.67 L167,524.66 L167.5,524.65 L168,524.64 L168.5,524.63 L169,524.62 L169.5,524.61 L170,524.6 L170.5,524.59 L171,524.58 L171.5,524.56 L172,524.55 L172.5,524.54 L173,524.53 L173.5,524.51 L174,524.5 L174.5,524.49 L175,524.48 L175.5,524.46 L176,524.45 L176.5,524.43 L177,524.42 L177.5,524.4 L178,524.39 L178.5,524.37 L179,524.36 L179.5,524.34 L180,524.33 L180.5,524.31 L181,524.29 L181.5,524.27 L182,524.26 L182.5,524.24 L183,524.22 L183.5,524.2 L184,524.18 L184.5,524.16 L185,524.14 L185.5,524.12 L186,524.09 L186.5,524.07 L187,524.05 L187.5,524.03 L188,524 L188.5,523.98 L189,523.95 L189.5,523.93 L190,523.9 L190.5,523.87 L191,523.85 L191.5,523.82 L192,523.79 L192.5,523.75 L193,523.72 L193.5,523.69 L194,523.66 L194.5,523.62 L195,523.59 L195.5,523.55 L196,523.51 L196.5,523.48 L197,523.44 L197.5,523.4 L198,523.36 L198.5,523.32 L199,523.28 L199.5,523.23 L200,523.19 L200.5,523.15 L201,523.1 L201.5,523.06 L202,523.02 L202.5,522.97 L203,522.92 L203.5,522.88 L204,522.83 L204.5,522.79 L205,522.74 L205.5,522.69 L206,522.64 L206.5,522.6 L207,522.55 L207.5,522.5 L208,522.45 L208.5,522.4 L209,522.35 L209.5,522.3 L210,522.25 L210.5,522.2 L211,522.16 L211.5,522.11 L212,522.06 L212.5,522.01 L213,521.96 L213.5,521.91 L214,521.86 L214.5,521.81 L215,521.76 L215.5,521.71 L216,521.66 L216.5,521.61 L217,521.57 L217.5,521.52 L218,521.47 L218.5,521.42 L219,521.37 L219.5,521.33 L220,521.28 L220.5,521.23 L221,521.19 L221.5,521.14 L222,521.09 L222.5,521.04 L223,520.99 L223.5,520.94 L224,520.89 L224.5,520.84 L225,520.79 L225.5,520.74 L226,520.69 L226.5,520.63 L227,520.58 L227.5,520.53 L228,520.47 L228.5,520.42 L229,520.36 L229.5,520.3 L230,520.25 L230.5,520.19 L231,520.13 L231.5,520.07 L232,520.01 L232.5,519.94 L233,519.88 L233.5,519.81 L234,519.75 L234.5,519.68 L235,519.61 L235.5,519.54 L236,519.46 L236.5,519.39 L237,519.31 L237.5,519.23 L238,519.15 L238.5,519.07 L239,518.98 L239.5,518.89 L240,518.8 L240.5,518.71 L241,518.61 L241.5,518.51 L242,518.4 L242.5,518.3 L243,518.18 L243.5,518.07 L244,517.95 L244.5,517.82 L245,517.69 L245.5,517.56 L246,517.42 L246.5,517.28 L247,517.13 L247.5,516.97 L248,516.81 L248.5,516.64 L249,516.46 L249.5,516.28 L250,516.09 L250.5,515.9 L251,515.69 L251.5,515.48 L252,515.26 L252.5,515.03 L253,514.79 L253.5,514.54 L254,514.28 L254.5,514.01 L255,513.73 L255.5,513.44 L256,513.14 L256.5,512.83 L257,512.51 L257.5,512.17 L258,511.82 L258.5,511.47 L259,511.09 L259.5,510.71 L260,510.31 L260.5,509.9 L261,509.48 L261.5,509.04 L262,508.59 L262.5,508.12 L263,507.64 L263.5,507.15 L264,506.64 L264.5,506.12 L265,505.58 L265.5,505.03 L266,504.47 L266.5,503.89 L267,503.29 L267.5,502.69 L268,502.06 L268.5,501.43 L269,500.78 L269.5,500.11 L270,499.43 L270.5,498.74 L271,498.04 L271.5,497.32 L272,496.6 L272.5,495.86 L273,495.11 L273.5,494.34 L274,493.57 L274.5,492.79 L275,492 L275.5,491.2 L276,490.39 L276.5,489.58 L277,488.76 L277.5,487.93 L278,487.1 L278.5,486.27 L279,485.43 L279.5,484.59 L280,483.75 L280.5,482.91 L281,482.07 L281.5,481.23 L282,480.39 L282.5,479.56 L283,478.73 L283.5,477.91 L284,477.09 L284.5,476.29 L285,475.49 L285.5,474.7 L286,473.92 L286.5,473.16 L287,472.4 L287.5,471.67 L288,470.94 L288.5,470.24 L289,469.55 L289.5,468.88 L290,468.24 L290.5,467.61 L291,467 L291.5,466.42 L292,465.86 L292.5,465.33 L293,464.82 L293.5,464.34 L294,463.88 L294.5,463.45 L295,463.05 L295.5,462.69 L296,462.35 L296.5,462.04 L297,461.76 L297.5,461.51 L298,461.3 L298.5,461.11 L299,460.96 L299.5,460.84 L300,460.76 L300.5,460.71 L301,460.69 L301.5,460.7 L302,460.75 L302.5,460.83 L303,460.94 L303.5,461.08 L304,461.26 L304.5,461.46 L305,461.7 L305.5,461.97 L306,462.27 L306.5,462.6 L307,462.96 L307.5,463.34 L308,463.76 L308.5,464.2 L309,464.66 L309.5,465.15 L310,465.67 L310.5,466.21 L311,466.77 L311.5,467.35 L312,467.96 L312.5,468.58 L313,469.22 L313.5,469.88 L314,470.56 L314.5,471.25 L315,471.95 L315.5,472.67 L316,473.4 L316.5,474.14 L317,474.89 L317.5,475.65 L318,476.42 L318.5,477.19 L319,477.97 L319.5,478.75 L320,479.54 L320.5,480.33 L321,481.12 L321.5,481.91 L322,482.69 L322.5,483.48 L323,484.26 L323.5,485.04 L324,485.82 L324.5,486.59 L325,487.36 L325.5,488.11 L326,488.87 L326.5,489.61 L327,490.34 L327.5,491.07 L328,491.78 L328.5,492.48 L329,493.18 L329.5,493.86 L330,494.53 L330.5,495.19 L331,495.83 L331.5,496.46 L332,497.08 L332.5,497.68 L333,498.28 L333.5,498.85 L334,499.42 L334.5,499.97 L335,500.5 L335.5,501.02 L336,501.53 L336.5,502.02 L337,502.49 L337.5,502.96 L338,503.41 L338.5,503.84 L339,504.26 L339.5,504.67 L340,505.06 L340.5,505.44 L341,505.81 L341.5,506.16 L342,506.5 L342.5,506.83 L343,507.14 L343.5,507.44 L344,507.73 L344.5,508.01 L345,508.28 L345.5,508.54 L346,508.78 L346.5,509.02 L347,509.24 L347.5,509.46 L348,509.66 L348.5,509.86 L349,510.04 L349.5,510.22 L350,510.39 L350.5,510.55 L351,510.7 L351.5,510.85 L352,510.99 L352.5,511.12 L353,511.24 L353.5,511.36 L354,511.47 L354.5,511.57 L355,511.67 L355.5,511.77 L356,511.86 L356.5,511.94 L357,512.02 L357.5,512.09 L358,512.16 L358.5,512.23 L359,512.29 L359.5,512.35 L360,512.4 L360.5,512.45 L361,512.5 L361.5,512.54 L362,512.59 L362.5,512.62 L363,512.66 L363.5,512.7 L364,512.73 L364.5,512.76 L365,512.78 L365.5,512.81 L366,512.83 L366.5,512.85 L367,512.87 L367.5,512.89 L368,512.91 L368.5,512.93 L369,512.94 L369.5,512.95 L370,512.97 L370.5,512.98 L371,512.99 L371.5,513 L372,513.01 L372.5,513.01 L373,513.02 L373.5,513.03 L374,513.03 L374.5,513.04 L375,513.04 L375.5,513.04 L376,513.05" fill="none" stroke="#ed7d31" stroke-width="2.2" stroke-linejoin="round" />
<path d="M34,527.99 L34.5,527.98 L35,527.97 L35.5,527.96 L36,527.96 L36.5,527.95 L37,527.94 L37.5,527.93 L38,527.93 L38.5,527.92 L39,527.91 L39.5,527.9 L40,527.9 L40.5,527.89 L41,527.88 L41.5,527.88 L42,527.87 L42.5,527.86 L43,527.85 L43.5,527.85 L44,527.84 L44.5,527.83 L45,527.82 L45.5,527.82 L46,527.81 L46.5,527.8 L47,527.8 L47.5,527.79 L48,527.78 L48.5,527.77 L49,527.77 L49.5,527.76 L50,527.75 L50.5,527.75 L51,527.74 L51.5,527.73 L52,527.72 L52.5,527.72 L53,527.71 L53.5,527.7 L54,527.7 L54.5,527.69 L55,527.68 L55.5,527.68 L56,527.67 L56.5,527.66 L57,527.65 L57.5,527.65 L58,527.64 L58.5,527.63 L59,527.63 L59.5,527.62 L60,527.61 L60.5,527.6 L61,527.6 L61.5,527.59 L62,527.58 L62.5,527.58 L63,527.57 L63.5,527.56 L64,527.55 L64.5,527.55 L65,527.54 L65.5,527.53 L66,527.53 L66.5,527.52 L67,527.51 L67.5,527.5 L68,527.5 L68.5,527.49 L69,527.48 L69.5,527.47 L70,527.47 L70.5,527.46 L71,527.45 L71.5,527.45 L72,527.44 L72.5,527.43 L73,527.42 L73.5,527.42 L74,527.41 L74.5,527.4 L75,527.39 L75.5,527.39 L76,527.38 L76.5,527.37 L77,527.36 L77.5,527.36 L78,527.35 L78.5,527.34 L79,527.33 L79.5,527.33 L80,527.32 L80.5,527.31 L81,527.3 L81.5,527.3 L82,527.29 L82.5,527.28 L83,527.27 L83.5,527.27 L84,527.26 L84.5,527.25 L85,527.24 L85.5,527.24 L86,527.23 L86.5,527.22 L87,527.21 L87.5,527.2 L88,527.2 L88.5,527.19 L89,527.18 L89.5,527.17 L90,527.16 L90.5,527.16 L91,527.15 L91.5,527.14 L92,527.13 L92.5,527.12 L93,527.12 L93.5,527.11 L94,527.1 L94.5,527.09 L95,527.08 L95.5,527.08 L96,527.07 L96.5,527.06 L97,527.05 L97.5,527.04 L98,527.03 L98.5,527.03 L99,527.02 L99.5,527.01 L100,527 L100.5,526.99 L101,526.98 L101.5,526.97 L102,526.97 L102.5,526.96 L103,526.95 L103.5,526.94 L104,526.93 L104.5,526.92 L105,526.91 L105.5,526.9 L106,526.9 L106.5,526.89 L107,526.88 L107.5,526.87 L108,526.86 L108.5,526.85 L109,526.84 L109.5,526.83 L110,526.82 L110.5,526.81 L111,526.81 L111.5,526.8 L112,526.79 L112.5,526.78 L113,526.77 L113.5,526.76 L114,526.75 L114.5,526.74 L115,526.73 L115.5,526.72 L116,526.71 L116.5,526.7 L117,526.69 L117.5,526.68 L118,526.68 L118.5,526.67 L119,526.66 L119.5,526.65 L120,526.64 L120.5,526.63 L121,526.62 L121.5,526.61 L122,526.6 L122.5,526.59 L123,526.58 L123.5,526.57 L124,526.56 L124.5,526.55 L125,526.54 L125.5,526.53 L126,526.52 L126.5,526.51 L127,526.5 L127.5,526.49 L128,526.48 L128.5,526.47 L129,526.46 L129.5,526.45 L130,526.44 L130.5,526.43 L131,526.42 L131.5,526.41 L132,526.4 L132.5,526.39 L133,526.38 L133.5,526.37 L134,526.35 L134.5,526.34 L135,526.33 L135.5,526.32 L136,526.31 L136.5,526.3 L137,526.29 L137.5,526.28 L138,526.27 L138.5,526.26 L139,526.25 L139.5,526.24 L140,526.23 L140.5,526.22 L141,526.2 L141.5,526.19 L142,526.18 L142.5,526.17 L143,526.16 L143.5,526.15 L144,526.14 L144.5,526.13 L145,526.11 L145.5,526.1 L146,526.09 L146.5,526.08 L147,526.07 L147.5,526.06 L148,526.05 L148.5,526.03 L149,526.02 L149.5,526.01 L150,526 L150.5,525.99 L151,525.98 L151.5,525.97 L152,525.95 L152.5,525.94 L153,525.93 L153.5,525.92 L154,525.91 L154.5,525.9 L155,525.89 L155.5,525.88 L156,525.87 L156.5,525.86 L157,525.85 L157.5,525.84 L158,525.83 L158.5,525.82 L159,525.81 L159.5,525.81 L160,525.8 L160.5,525.79 L161,525.78 L161.5,525.77 L162,525.76 L162.5,525.75 L163,525.74 L163.5,525.73 L164,525.72 L164.5,525.71 L165,525.7 L165.5,525.69 L166,525.68 L166.5,525.67 L167,525.66 L167.5,525.65 L168,525.64 L168.5,525.63 L169,525.62 L169.5,525.61 L170,525.6 L170.5,525.59 L171,525.58 L171.5,525.56 L172,525.55 L172.5,525.54 L173,525.53 L173.5,525.51 L174,525.5 L174.5,525.49 L175,525.48 L175.5,525.46 L176,525.45 L176.5,525.43 L177,525.42 L177.5,525.4 L178,525.39 L178.5,525.37 L179,525.36 L179.5,525.34 L180,525.33 L180.5,525.31 L181,525.29 L181.5,525.27 L182,525.26 L182.5,525.24 L183,525.22 L183.5,525.2 L184,525.18 L184.5,525.16 L185,525.14 L185.5,525.12 L186,525.09 L186.5,525.07 L187,525.05 L187.5,525.03 L188,525 L188.5,524.98 L189,524.95 L189.5,524.93 L190,524.9 L190.5,524.87 L191,524.85 L191.5,524.82 L192,524.79 L192.5,524.75 L193,524.72 L193.5,524.69 L194,524.66 L194.5,524.62 L195,524.59 L195.5,524.55 L196,524.51 L196.5,524.48 L197,524.44 L197.5,524.4 L198,524.36 L198.5,524.32 L199,524.28 L199.5,524.23 L200,524.19 L200.5,524.15 L201,524.1 L201.5,524.06 L202,524.02 L202.5,523.97 L203,523.93 L203.5,523.88 L204,523.83 L204.5,523.79 L205,523.74 L205.5,523.69 L206,523.64 L206.5,523.6 L207,523.55 L207.5,523.5 L208,523.45 L208.5,523.4 L209,523.35 L209.5,523.31 L210,523.26 L210.5,523.21 L211,523.16 L211.5,523.11 L212,523.06 L212.5,523.01 L213,522.96 L213.5,522.91 L214,522.87 L214.5,522.82 L215,522.77 L215.5,522.72 L216,522.67 L216.5,522.62 L217,522.58 L217.5,522.53 L218,522.48 L218.5,522.44 L219,522.39 L219.5,522.35 L220,522.3 L220.5,522.25 L221,522.21 L221.5,522.16 L222,522.12 L222.5,522.07 L223,522.03 L223.5,521.98 L224,521.94 L224.5,521.89 L225,521.84 L225.5,521.8 L226,521.75 L226.5,521.7 L227,521.66 L227.5,521.61 L228,521.56 L228.5,521.52 L229,521.47 L229.5,521.42 L230,521.37 L230.5,521.33 L231,521.28 L231.5,521.23 L232,521.18 L232.5,521.14 L233,521.09 L233.5,521.04 L234,520.99 L234.5,520.95 L235,520.9 L235.5,520.85 L236,520.81 L236.5,520.76 L237,520.71 L237.5,520.66 L238,520.62 L238.5,520.57 L239,520.52 L239.5,520.47 L240,520.43 L240.5,520.38 L241,520.33 L241.5,520.28 L242,520.24 L242.5,520.19 L243,520.14 L243.5,520.1 L244,520.05 L244.5,520 L245,519.96 L245.5,519.91 L246,519.86 L246.5,519.82 L247,519.77 L247.5,519.73 L248,519.68 L248.5,519.64 L249,519.59 L249.5,519.55 L250,519.5 L250.5,519.45 L251,519.41 L251.5,519.36 L252,519.32 L252.5,519.27 L253,519.23 L253.5,519.18 L254,519.14 L254.5,519.09 L255,519.05 L255.5,519 L256,518.96 L256.5,518.91 L257,518.87 L257.5,518.82 L258,518.77 L258.5,518.73 L259,518.68 L259.5,518.64 L260,518.59 L260.5,518.55 L261,518.5 L261.5,518.46 L262,518.41 L262.5,518.37 L263,518.32 L263.5,518.28 L264,518.23 L264.5,518.19 L265,518.14 L265.5,518.1 L266,518.06 L266.5,518.01 L267,517.97 L267.5,517.92 L268,517.88 L268.5,517.84 L269,517.79 L269.5,517.75 L270,517.71 L270.5,517.66 L271,517.62 L271.5,517.58 L272,517.54 L272.5,517.5 L273,517.45 L273.5,517.41 L274,517.37 L274.5,517.33 L275,517.29 L275.5,517.25 L276,517.21 L276.5,517.17 L277,517.13 L277.5,517.09 L278,517.05 L278.5,517.01 L279,516.98 L279.5,516.94 L280,516.9 L280.5,516.86 L281,516.83 L281.5,516.79 L282,516.75 L282.5,516.71 L283,516.68 L283.5,516.64 L284,516.6 L284.5,516.57 L285,516.53 L285.5,516.5 L286,516.46 L286.5,516.42 L287,516.39 L287.5,516.35 L288,516.32 L288.5,516.28 L289,516.25 L289.5,516.21 L290,516.18 L290.5,516.14 L291,516.11 L291.5,516.08 L292,516.04 L292.5,516.01 L293,515.98 L293.5,515.94 L294,515.91 L294.5,515.88 L295,515.85 L295.5,515.81 L296,515.78 L296.5,515.75 L297,515.72 L297.5,515.69 L298,515.66 L298.5,515.63 L299,515.6 L299.5,515.57 L300,515.54 L300.5,515.51 L301,515.48 L301.5,515.45 L302,515.42 L302.5,515.39 L303,515.36 L303.5,515.33 L304,515.31 L304.5,515.28 L305,515.25 L305.5,515.23 L306,515.2 L306.5,515.17 L307,515.15 L307.5,515.12 L308,515.1 L308.5,515.07 L309,515.05 L309.5,515.02 L310,515 L310.5,514.98 L311,514.95 L311.5,514.93 L312,514.91 L312.5,514.89 L313,514.87 L313.5,514.85 L314,514.83 L314.5,514.81 L315,514.79 L315.5,514.77 L316,514.75 L316.5,514.73 L317,514.71 L317.5,514.7 L318,514.68 L318.5,514.66 L319,514.65 L319.5,514.63 L320,514.62 L320.5,514.6 L321,514.59 L321.5,514.57 L322,514.56 L322.5,514.54 L323,514.53 L323.5,514.52 L324,514.51 L324.5,514.49 L325,514.48 L325.5,514.47 L326,514.46 L326.5,514.45 L327,514.44 L327.5,514.43 L328,514.42 L328.5,514.41 L329,514.4 L329.5,514.39 L330,514.38 L330.5,514.37 L331,514.36 L331.5,514.35 L332,514.34 L332.5,514.34 L333,514.33 L333.5,514.32 L334,514.31 L334.5,514.31 L335,514.3 L335.5,514.29 L336,514.29 L336.5,514.28 L337,514.27 L337.5,514.27 L338,514.26 L338.5,514.26 L339,514.25 L339.5,514.25 L340,514.24 L340.5,514.24 L341,514.23 L341.5,514.23 L342,514.22 L342.5,514.22 L343,514.22 L343.5,514.21 L344,514.21 L344.5,514.2 L345,514.2 L345.5,514.2 L346,514.19 L346.5,514.19 L347,514.19 L347.5,514.19 L348,514.18 L348.5,514.18 L349,514.18 L349.5,514.18 L350,514.17 L350.5,514.17 L351,514.17 L351.5,514.17 L352,514.17 L352.5,514.16 L353,514.16 L353.5,514.16 L354,514.16 L354.5,514.16 L355,514.16 L355.5,514.16 L356,514.15 L356.5,514.15 L357,514.15 L357.5,514.15 L358,514.15 L358.5,514.15 L359,514.15 L359.5,514.15 L360,514.14 L360.5,514.14 L361,514.14 L361.5,514.14 L362,514.14 L362.5,514.14 L363,514.14 L363.5,514.14 L364,514.14 L364.5,514.14 L365,514.13 L365.5,514.13 L366,514.13 L366.5,514.13 L367,514.13 L367.5,514.13 L368,514.13 L368.5,514.13 L369,514.13 L369.5,514.12 L370,514.12 L370.5,514.12 L371,514.12 L371.5,514.12 L372,514.12 L372.5,514.11 L373,514.11 L373.5,514.11 L374,514.11 L374.5,514.11 L375,514.1 L375.5,514.1 L376,514.1" fill="none" stroke="#4472c4" stroke-width="1.3" stroke-linejoin="round" />
<path d="M34,525.09 L34.5,525.01 L35,524.92 L35.5,524.83 L36,524.73 L36.5,524.64 L37,524.54 L37.5,524.45 L38,524.35 L38.5,524.25 L39,524.15 L39.5,524.04 L40,523.94 L40.5,523.84 L41,523.73 L41.5,523.62 L42,523.52 L42.5,523.41 L43,523.3 L43.5,523.19 L44,523.08 L44.5,522.97 L45,522.86 L45.5,522.75 L46,522.64 L46.5,522.53 L47,522.42 L47.5,522.31 L48,522.2 L48.5,522.09 L49,521.98 L49.5,521.87 L50,521.76 L50.5,521.66 L51,521.55 L51.5,521.44 L52,521.33 L52.5,521.22 L53,521.11 L53.5,521 L54,520.9 L54.5,520.79 L55,520.68 L55.5,520.58 L56,520.47 L56.5,520.36 L57,520.25 L57.5,520.15 L58,520.04 L58.5,519.93 L59,519.83 L59.5,519.72 L60,519.61 L60.5,519.51 L61,519.4 L61.5,519.29 L62,519.18 L62.5,519.07 L63,518.96 L63.5,518.85 L64,518.74 L64.5,518.63 L65,518.52 L65.5,518.41 L66,518.3 L66.5,518.18 L67,518.07 L67.5,517.95 L68,517.84 L68.5,517.72 L69,517.6 L69.5,517.48 L70,517.36 L70.5,517.24 L71,517.12 L71.5,516.99 L72,516.86 L72.5,516.74 L73,516.61 L73.5,516.48 L74,516.35 L74.5,516.21 L75,516.08 L75.5,515.94 L76,515.8 L76.5,515.66 L77,515.52 L77.5,515.37 L78,515.23 L78.5,515.08 L79,514.93 L79.5,514.77 L80,514.62 L80.5,514.46 L81,514.3 L81.5,514.13 L82,513.97 L82.5,513.8 L83,513.63 L83.5,513.45 L84,513.27 L84.5,513.09 L85,512.91 L85.5,512.72 L86,512.53 L86.5,512.34 L87,512.14 L87.5,511.94 L88,511.74 L88.5,511.53 L89,511.32 L89.5,511.1 L90,510.88 L90.5,510.66 L91,510.43 L91.5,510.2 L92,509.96 L92.5,509.72 L93,509.47 L93.5,509.22 L94,508.96 L94.5,508.7 L95,508.44 L95.5,508.16 L96,507.88 L96.5,507.6 L97,507.31 L97.5,507.01 L98,506.71 L98.5,506.4 L99,506.08 L99.5,505.76 L100,505.43 L100.5,505.09 L101,504.75 L101.5,504.4 L102,504.04 L102.5,503.67 L103,503.29 L103.5,502.9 L104,502.51 L104.5,502.1 L105,501.69 L105.5,501.27 L106,500.83 L106.5,500.39 L107,499.94 L107.5,499.47 L108,498.99 L108.5,498.5 L109,498 L109.5,497.49 L110,496.96 L110.5,496.42 L111,495.87 L111.5,495.3 L112,494.72 L112.5,494.12 L113,493.51 L113.5,492.88 L114,492.24 L114.5,491.58 L115,490.9 L115.5,490.2 L116,489.48 L116.5,488.75 L117,487.99 L117.5,487.21 L118,486.42 L118.5,485.6 L119,484.75 L119.5,483.89 L120,483 L120.5,482.08 L121,481.14 L121.5,480.17 L122,479.18 L122.5,478.16 L123,477.1 L123.5,476.02 L124,474.91 L124.5,473.76 L125,472.59 L125.5,471.37 L126,470.13 L126.5,468.85 L127,467.53 L127.5,466.17 L128,464.77 L128.5,463.34 L129,461.86 L129.5,460.35 L130,458.79 L130.5,457.18 L131,455.53 L131.5,453.84 L132,452.1 L132.5,450.31 L133,448.48 L133.5,446.59 L134,444.66 L134.5,442.68 L135,440.65 L135.5,438.56 L136,436.43 L136.5,434.25 L137,432.02 L137.5,429.75 L138,427.42 L138.5,425.05 L139,422.64 L139.5,420.18 L140,417.68 L140.5,415.15 L141,412.58 L141.5,409.98 L142,407.35 L142.5,404.7 L143,402.04 L143.5,399.36 L144,396.68 L144.5,394 L145,391.33 L145.5,388.68 L146,386.06 L146.5,383.47 L147,380.92 L147.5,378.43 L148,376.01 L148.5,373.66 L149,371.4 L149.5,369.24 L150,367.19 L150.5,365.26 L151,363.46 L151.5,361.81 L152,360.3 L152.5,358.96 L153,357.79 L153.5,356.8 L154,355.99 L154.5,355.37 L155,354.95 L155.5,354.72 L156,354.64 L156.5,354.81 L157,355.17 L157.5,355.73 L158,356.48 L158.5,357.41 L159,358.52 L159.5,359.8 L160,361.25 L160.5,362.85 L161,364.6 L161.5,366.48 L162,368.48 L162.5,370.59 L163,372.8 L163.5,375.11 L164,377.49 L164.5,379.94 L165,382.44 L165.5,385 L166,387.59 L166.5,390.2 L167,392.84 L167.5,395.49 L168,398.14 L168.5,400.78 L169,403.42 L169.5,406.04 L170,408.64 L170.5,411.21 L171,413.75 L171.5,416.26 L172,418.73 L172.5,421.16 L173,423.54 L173.5,425.88 L174,428.18 L174.5,430.42 L175,432.62 L175.5,434.77 L176,436.87 L176.5,438.92 L177,440.91 L177.5,442.86 L178,444.75 L178.5,446.6 L179,448.4 L179.5,450.14 L180,451.84 L180.5,453.49 L181,455.1 L181.5,456.65 L182,458.17 L182.5,459.64 L183,461.06 L183.5,462.44 L184,463.79 L184.5,465.09 L185,466.35 L185.5,467.57 L186,468.76 L186.5,469.91 L187,471.02 L187.5,472.1 L188,473.15 L188.5,474.16 L189,475.15 L189.5,476.1 L190,477.02 L190.5,477.91 L191,478.77 L191.5,479.61 L192,480.42 L192.5,481.2 L193,481.95 L193.5,482.69 L194,483.39 L194.5,484.08 L195,484.74 L195.5,485.38 L196,486 L196.5,486.6 L197,487.17 L197.5,487.73 L198,488.27 L198.5,488.79 L199,489.3 L199.5,489.79 L200,490.26 L200.5,490.71 L201,491.15 L201.5,491.57 L202,491.98 L202.5,492.38 L203,492.76 L203.5,493.13 L204,493.49 L204.5,493.83 L205,494.16 L205.5,494.48 L206,494.79 L206.5,495.09 L207,495.38 L207.5,495.66 L208,495.93 L208.5,496.19 L209,496.44 L209.5,496.68 L210,496.91 L210.5,497.14 L211,497.36 L211.5,497.57 L212,497.77 L212.5,497.97 L213,498.16 L213.5,498.34 L214,498.52 L214.5,498.7 L215,498.86 L215.5,499.03 L216,499.19 L216.5,499.34 L217,499.49 L217.5,499.63 L218,499.77 L218.5,499.91 L219,500.04 L219.5,500.18 L220,500.3 L220.5,500.43 L221,500.55 L221.5,500.67 L222,500.78 L222.5,500.9 L223,501.01 L223.5,501.11 L224,501.22 L224.5,501.32 L225,501.42 L225.5,501.52 L226,501.62 L226.5,501.72 L227,501.81 L227.5,501.91 L228,502 L228.5,502.09 L229,502.18 L229.5,502.27 L230,502.36 L230.5,502.45 L231,502.54 L231.5,502.63 L232,502.72 L232.5,502.8 L233,502.89 L233.5,502.98 L234,503.06 L234.5,503.15 L235,503.24 L235.5,503.32 L236,503.41 L236.5,503.5 L237,503.58 L237.5,503.67 L238,503.76 L238.5,503.85 L239,503.94 L239.5,504.02 L240,504.11 L240.5,504.2 L241,504.29 L241.5,504.38 L242,504.47 L242.5,504.57 L243,504.66 L243.5,504.75 L244,504.84 L244.5,504.93 L245,505.03 L245.5,505.12 L246,505.21 L246.5,505.31 L247,505.4 L247.5,505.49 L248,505.59 L248.5,505.68 L249,505.78 L249.5,505.87 L250,505.97 L250.5,506.06 L251,506.16 L251.5,506.25 L252,506.35 L252.5,506.44 L253,506.54 L253.5,506.63 L254,506.72 L254.5,506.81 L255,506.91 L255.5,507 L256,507.09 L256.5,507.18 L257,507.27 L257.5,507.36 L258,507.44 L258.5,507.53 L259,507.62 L259.5,507.7 L260,507.79 L260.5,507.87 L261,507.96 L261.5,508.04 L262,508.12 L262.5,508.2 L263,508.28 L263.5,508.36 L264,508.43 L264.5,508.51 L265,508.58 L265.5,508.66 L266,508.73 L266.5,508.8 L267,508.87 L267.5,508.94 L268,509.01 L268.5,509.07 L269,509.14 L269.5,509.2 L270,509.26 L270.5,509.33 L271,509.39 L271.5,509.44 L272,509.5 L272.5,509.56 L273,509.61 L273.5,509.67 L274,509.72 L274.5,509.77 L275,509.82 L275.5,509.87 L276,509.92 L276.5,509.96 L277,510.01 L277.5,510.05 L278,510.09 L278.5,510.13 L279,510.17 L279.5,510.21 L280,510.25 L280.5,510.29 L281,510.32 L281.5,510.36 L282,510.39 L282.5,510.42 L283,510.45 L283.5,510.48 L284,510.51 L284.5,510.54 L285,510.56 L285.5,510.59 L286,510.61 L286.5,510.63 L287,510.65 L287.5,510.67 L288,510.69 L288.5,510.71 L289,510.73 L289.5,510.75 L290,510.76 L290.5,510.78 L291,510.79 L291.5,510.8 L292,510.82 L292.5,510.83 L293,510.84 L293.5,510.85 L294,510.86 L294.5,510.87 L295,510.87 L295.5,510.88 L296,510.89 L296.5,510.9 L297,510.9 L297.5,510.91 L298,510.91 L298.5,510.92 L299,510.92 L299.5,510.92 L300,510.93 L300.5,510.93 L301,510.93 L301.5,510.93 L302,510.93 L302.5,510.94 L303,510.94 L303.5,510.94 L304,510.94 L304.5,510.94 L305,510.94 L305.5,510.94 L306,510.94 L306.5,510.94 L307,510.94 L307.5,510.94 L308,510.94 L308.5,510.93 L309,510.93 L309.5,510.93 L310,510.93 L310.5,510.93 L311,510.93 L311.5,510.93 L312,510.93 L312.5,510.93 L313,510.93 L313.5,510.93 L314,510.93 L314.5,510.93 L315,510.93 L315.5,510.93 L316,510.93 L316.5,510.93 L317,510.93 L317.5,510.93 L318,510.93 L318.5,510.93 L319,510.93 L319.5,510.94 L320,510.94 L320.5,510.94 L321,510.94 L321.5,510.94 L322,510.95 L322.5,510.95 L323,510.95 L323.5,510.96 L324,510.96 L324.5,510.96 L325,510.96 L325.5,510.97 L326,510.97 L326.5,510.98 L327,510.98 L327.5,510.98 L328,510.99 L328.5,510.99 L329,511 L329.5,511 L330,511.01 L330.5,511.01 L331,511.01 L331.5,511.02 L332,511.02 L332.5,511.03 L333,511.04 L333.5,511.04 L334,511.05 L334.5,511.05 L335,511.06 L335.5,511.06 L336,511.07 L336.5,511.07 L337,511.08 L337.5,511.09 L338,511.09 L338.5,511.1 L339,511.11 L339.5,511.11 L340,511.12 L340.5,511.13 L341,511.13 L341.5,511.14 L342,511.15 L342.5,511.15 L343,511.16 L343.5,511.17 L344,511.17 L344.5,511.18 L345,511.19 L345.5,511.19 L346,511.2 L346.5,511.21 L347,511.22 L347.5,511.22 L348,511.23 L348.5,511.24 L349,511.25 L349.5,511.25 L350,511.26 L350.5,511.27 L351,511.28 L351.5,511.28 L352,511.29 L352.5,511.3 L353,511.31 L353.5,511.32 L354,511.32 L354.5,511.33 L355,511.34 L355.5,511.35 L356,511.35 L356.5,511.36 L357,511.37 L357.5,511.38 L358,511.38 L358.5,511.39 L359,511.4 L359.5,511.41 L360,511.41 L360.5,511.42 L361,511.43 L361.5,511.44 L362,511.44 L362.5,511.45 L363,511.46 L363.5,511.46 L364,511.47 L364.5,511.48 L365,511.48 L365.5,511.49 L366,511.5 L366.5,511.5 L367,511.51 L367.5,511.52 L368,511.52 L368.5,511.53 L369,511.54 L369.5,511.54 L370,511.55 L370.5,511.55 L371,511.56 L371.5,511.56 L372,511.57 L372.5,511.58 L373,511.58 L373.5,511.59 L374,511.59 L374.5,511.6 L375,511.6 L375.5,511.6 L376,511.61" fill="none" stroke="#00b050" stroke-width="2.2" stroke-linejoin="round" />
<path d="M34,523.19 L34.5,523.11 L35,523.02 L35.5,522.93 L36,522.83 L36.5,522.74 L37,522.64 L37.5,522.55 L38,522.45 L38.5,522.35 L39,522.25 L39.5,522.14 L40,522.04 L40.5,521.94 L41,521.83 L41.5,521.72 L42,521.62 L42.5,521.51 L43,521.4 L43.5,521.29 L44,521.18 L44.5,521.07 L45,520.96 L45.5,520.85 L46,520.74 L46.5,520.63 L47,520.52 L47.5,520.41 L48,520.3 L48.5,520.19 L49,520.08 L49.5,519.97 L50,519.86 L50.5,519.76 L51,519.65 L51.5,519.54 L52,519.43 L52.5,519.32 L53,519.21 L53.5,519.1 L54,519 L54.5,518.89 L55,518.78 L55.5,518.68 L56,518.57 L56.5,518.46 L57,518.35 L57.5,518.25 L58,518.14 L58.5,518.03 L59,517.93 L59.5,517.82 L60,517.71 L60.5,517.61 L61,517.5 L61.5,517.39 L62,517.28 L62.5,517.17 L63,517.06 L63.5,516.95 L64,516.84 L64.5,516.73 L65,516.62 L65.5,516.51 L66,516.4 L66.5,516.28 L67,516.17 L67.5,516.05 L68,515.94 L68.5,515.82 L69,515.7 L69.5,515.58 L70,515.46 L70.5,515.34 L71,515.22 L71.5,515.09 L72,514.96 L72.5,514.84 L73,514.71 L73.5,514.58 L74,514.45 L74.5,514.31 L75,514.18 L75.5,514.04 L76,513.9 L76.5,513.76 L77,513.62 L77.5,513.47 L78,513.33 L78.5,513.18 L79,513.03 L79.5,512.87 L80,512.72 L80.5,512.56 L81,512.4 L81.5,512.23 L82,512.07 L82.5,511.9 L83,511.73 L83.5,511.55 L84,511.37 L84.5,511.19 L85,511.01 L85.5,510.82 L86,510.63 L86.5,510.44 L87,510.24 L87.5,510.04 L88,509.84 L88.5,509.63 L89,509.42 L89.5,509.2 L90,508.98 L90.5,508.76 L91,508.53 L91.5,508.3 L92,508.06 L92.5,507.82 L93,507.57 L93.5,507.32 L94,507.06 L94.5,506.8 L95,506.54 L95.5,506.26 L96,505.98 L96.5,505.7 L97,505.41 L97.5,505.11 L98,504.81 L98.5,504.5 L99,504.18 L99.5,503.86 L100,503.53 L100.5,503.19 L101,502.85 L101.5,502.5 L102,502.14 L102.5,501.77 L103,501.39 L103.5,501 L104,500.61 L104.5,500.2 L105,499.79 L105.5,499.37 L106,498.93 L106.5,498.49 L107,498.04 L107.5,497.57 L108,497.09 L108.5,496.6 L109,496.1 L109.5,495.59 L110,495.06 L110.5,494.52 L111,493.97 L111.5,493.4 L112,492.82 L112.5,492.22 L113,491.61 L113.5,490.98 L114,490.34 L114.5,489.68 L115,489 L115.5,488.3 L116,487.58 L116.5,486.85 L117,486.09 L117.5,485.31 L118,484.52 L118.5,483.7 L119,482.85 L119.5,481.99 L120,481.1 L120.5,480.18 L121,479.24 L121.5,478.27 L122,477.28 L122.5,476.26 L123,475.2 L123.5,474.12 L124,473.01 L124.5,471.86 L125,470.69 L125.5,469.47 L126,468.23 L126.5,466.95 L127,465.63 L127.5,464.27 L128,462.87 L128.5,461.44 L129,459.96 L129.5,458.45 L130,456.89 L130.5,455.28 L131,453.63 L131.5,451.94 L132,450.2 L132.5,448.41 L133,446.58 L133.5,444.69 L134,442.76 L134.5,440.78 L135,438.75 L135.5,436.66 L136,434.53 L136.5,432.35 L137,430.12 L137.5,427.85 L138,425.52 L138.5,423.15 L139,420.74 L139.5,418.28 L140,415.78 L140.5,413.25 L141,410.68 L141.5,408.08 L142,405.45 L142.5,402.8 L143,400.14 L143.5,397.46 L144,394.78 L144.5,392.1 L145,389.43 L145.5,386.78 L146,384.16 L146.5,381.57 L147,379.02 L147.5,376.53 L148,374.11 L148.5,371.76 L149,369.5 L149.5,367.34 L150,365.29 L150.5,363.36 L151,361.56 L151.5,359.91 L152,358.4 L152.5,357.06 L153,355.89 L153.5,354.9 L154,354.09 L154.5,353.47 L155,353.05 L155.5,352.82 L156,352.74 L156.5,352.91 L157,353.27 L157.5,353.83 L158,354.58 L158.5,355.51 L159,356.62 L159.5,357.9 L160,359.35 L160.5,360.95 L161,362.7 L161.5,364.58 L162,366.58 L162.5,368.69 L163,370.9 L163.5,373.21 L164,375.59 L164.5,378.04 L165,380.54 L165.5,383.1 L166,385.69 L166.5,388.3 L167,390.94 L167.5,393.59 L168,396.24 L168.5,398.88 L169,401.52 L169.5,404.14 L170,406.74 L170.5,409.31 L171,411.85 L171.5,414.36 L172,416.83 L172.5,419.26 L173,421.64 L173.5,423.98 L174,426.28 L174.5,428.52 L175,430.72 L175.5,432.87 L176,434.97 L176.5,437.02 L177,439.01 L177.5,440.96 L178,442.85 L178.5,444.7 L179,446.5 L179.5,448.24 L180,449.94 L180.5,451.59 L181,453.2 L181.5,454.75 L182,456.27 L182.5,457.74 L183,459.16 L183.5,460.54 L184,461.89 L184.5,463.19 L185,464.45 L185.5,465.67 L186,466.86 L186.5,468.01 L187,469.12 L187.5,470.2 L188,471.25 L188.5,472.26 L189,473.25 L189.5,474.2 L190,475.12 L190.5,476.01 L191,476.87 L191.5,477.71 L192,478.52 L192.5,479.3 L193,480.05 L193.5,480.79 L194,481.49 L194.5,482.18 L195,482.84 L195.5,483.48 L196,484.1 L196.5,484.7 L197,485.27 L197.5,485.83 L198,486.37 L198.5,486.89 L199,487.4 L199.5,487.88 L200,488.36 L200.5,488.81 L201,489.25 L201.5,489.67 L202,490.08 L202.5,490.48 L203,490.86 L203.5,491.23 L204,491.59 L204.5,491.93 L205,492.26 L205.5,492.58 L206,492.89 L206.5,493.19 L207,493.48 L207.5,493.76 L208,494.02 L208.5,494.28 L209,494.53 L209.5,494.78 L210,495.01 L210.5,495.24 L211,495.45 L211.5,495.66 L212,495.87 L212.5,496.06 L213,496.26 L213.5,496.44 L214,496.62 L214.5,496.79 L215,496.96 L215.5,497.12 L216,497.28 L216.5,497.43 L217,497.58 L217.5,497.72 L218,497.86 L218.5,498 L219,498.13 L219.5,498.26 L220,498.38 L220.5,498.51 L221,498.62 L221.5,498.74 L222,498.85 L222.5,498.96 L223,499.07 L223.5,499.17 L224,499.28 L224.5,499.38 L225,499.47 L225.5,499.57 L226,499.66 L226.5,499.75 L227,499.84 L227.5,499.93 L228,500.01 L228.5,500.1 L229,500.18 L229.5,500.26 L230,500.34 L230.5,500.41 L231,500.49 L231.5,500.56 L232,500.64 L232.5,500.71 L233,500.78 L233.5,500.85 L234,500.92 L234.5,500.98 L235,501.05 L235.5,501.11 L236,501.17 L236.5,501.23 L237,501.29 L237.5,501.34 L238,501.4 L238.5,501.45 L239,501.5 L239.5,501.54 L240,501.59 L240.5,501.63 L241,501.67 L241.5,501.71 L242,501.74 L242.5,501.77 L243,501.8 L243.5,501.82 L244,501.84 L244.5,501.85 L245,501.86 L245.5,501.87 L246,501.87 L246.5,501.86 L247,501.85 L247.5,501.84 L248,501.81 L248.5,501.79 L249,501.75 L249.5,501.71 L250,501.66 L250.5,501.6 L251,501.54 L251.5,501.47 L252,501.38 L252.5,501.29 L253,501.19 L253.5,501.08 L254,500.96 L254.5,500.83 L255,500.69 L255.5,500.54 L256,500.37 L256.5,500.2 L257,500.01 L257.5,499.81 L258,499.59 L258.5,499.37 L259,499.13 L259.5,498.88 L260,498.61 L260.5,498.33 L261,498.03 L261.5,497.72 L262,497.4 L262.5,497.06 L263,496.7 L263.5,496.33 L264,495.94 L264.5,495.54 L265,495.12 L265.5,494.69 L266,494.24 L266.5,493.78 L267,493.3 L267.5,492.8 L268,492.29 L268.5,491.76 L269,491.22 L269.5,490.66 L270,490.09 L270.5,489.5 L271,488.9 L271.5,488.29 L272,487.66 L272.5,487.02 L273,486.36 L273.5,485.7 L274,485.02 L274.5,484.33 L275,483.63 L275.5,482.92 L276,482.2 L276.5,481.47 L277,480.74 L277.5,479.99 L278,479.24 L278.5,478.49 L279,477.73 L279.5,476.97 L280,476.2 L280.5,475.43 L281,474.67 L281.5,473.9 L282,473.13 L282.5,472.37 L283,471.61 L283.5,470.85 L284,470.1 L284.5,469.35 L285,468.62 L285.5,467.89 L286,467.17 L286.5,466.46 L287,465.77 L287.5,465.09 L288,464.42 L288.5,463.77 L289,463.13 L289.5,462.52 L290,461.92 L290.5,461.34 L291,460.78 L291.5,460.25 L292,459.73 L292.5,459.24 L293,458.78 L293.5,458.34 L294,457.93 L294.5,457.54 L295,457.18 L295.5,456.85 L296,456.55 L296.5,456.28 L297,456.04 L297.5,455.83 L298,455.65 L298.5,455.5 L299,455.39 L299.5,455.3 L300,455.25 L300.5,455.23 L301,455.24 L301.5,455.29 L302,455.36 L302.5,455.47 L303,455.61 L303.5,455.78 L304,455.99 L304.5,456.22 L305,456.49 L305.5,456.78 L306,457.11 L306.5,457.46 L307,457.85 L307.5,458.26 L308,458.69 L308.5,459.16 L309,459.65 L309.5,460.16 L310,460.7 L310.5,461.26 L311,461.85 L311.5,462.45 L312,463.08 L312.5,463.72 L313,464.38 L313.5,465.06 L314,465.76 L314.5,466.47 L315,467.19 L315.5,467.93 L316,468.68 L316.5,469.44 L317,470.21 L317.5,470.99 L318,471.77 L318.5,472.56 L319,473.36 L319.5,474.16 L320,474.96 L320.5,475.77 L321,476.57 L321.5,477.38 L322,478.18 L322.5,478.99 L323,479.78 L323.5,480.58 L324,481.37 L324.5,482.16 L325,482.94 L325.5,483.71 L326,484.48 L326.5,485.24 L327,485.98 L327.5,486.72 L328,487.45 L328.5,488.17 L329,488.88 L329.5,489.57 L330,490.26 L330.5,490.93 L331,491.58 L331.5,492.23 L332,492.86 L332.5,493.48 L333,494.08 L333.5,494.67 L334,495.25 L334.5,495.81 L335,496.36 L335.5,496.89 L336,497.41 L336.5,497.91 L337,498.4 L337.5,498.88 L338,499.34 L338.5,499.78 L339,500.22 L339.5,500.63 L340,501.04 L340.5,501.43 L341,501.81 L341.5,502.17 L342,502.52 L342.5,502.86 L343,503.19 L343.5,503.5 L344,503.8 L344.5,504.09 L345,504.37 L345.5,504.63 L346,504.89 L346.5,505.13 L347,505.37 L347.5,505.59 L348,505.81 L348.5,506.01 L349,506.21 L349.5,506.4 L350,506.58 L350.5,506.75 L351,506.91 L351.5,507.06 L352,507.21 L352.5,507.35 L353,507.48 L353.5,507.61 L354,507.73 L354.5,507.85 L355,507.95 L355.5,508.06 L356,508.15 L356.5,508.25 L357,508.33 L357.5,508.42 L358,508.5 L358.5,508.57 L359,508.64 L359.5,508.71 L360,508.77 L360.5,508.83 L361,508.88 L361.5,508.94 L362,508.99 L362.5,509.03 L363,509.08 L363.5,509.12 L364,509.16 L364.5,509.2 L365,509.23 L365.5,509.27 L366,509.3 L366.5,509.33 L367,509.36 L367.5,509.38 L368,509.41 L368.5,509.43 L369,509.45 L369.5,509.47 L370,509.49 L370.5,509.51 L371,509.53 L371.5,509.54 L372,509.56 L372.5,509.57 L373,509.59 L373.5,509.6 L374,509.61 L374.5,509.62 L375,509.64 L375.5,509.65 L376,509.65" fill="none" stroke="#000" stroke-width="2.2" stroke-linejoin="round" stroke-dasharray="8 6.4" />
<line x1="224.8" y1="318.2" x2="255.4" y2="318.2" stroke="#000" stroke-width="2.2" stroke-dasharray="8.8 6.2"/>
<text x="257.1" y="322.1" font-size="11.55" class="r" text-anchor="start" >Cumulative Fitted Peak</text>
<line x1="224.8" y1="342.8" x2="255.4" y2="342.8" stroke="#00b050" stroke-width="2.2"/>
<text x="257.1" y="345.8" font-size="11.55" class="r" text-anchor="start" >NH<tspan dy="4.6">2</tspan><tspan dy="-4.6"> / 399.0 eV</tspan></text>
<line x1="224.8" y1="366.6" x2="255.4" y2="366.6" stroke="#ed7d31" stroke-width="2.2"/>
<text x="257.1" y="370.7" font-size="11.55" class="r" text-anchor="start" >NO<tspan dy="4.6">2</tspan><tspan dy="-4.6"> / 404.9 eV</tspan></text>
<line x1="224.8" y1="391.1" x2="255.4" y2="391.1" stroke="#4472c4" stroke-width="1.3"/>
<text x="257.1" y="394.1" font-size="11.55" class="r" text-anchor="start" >Background</text>
<rect x="446" y="301" width="340.2" height="251.6" fill="none" stroke="#000" stroke-width="2.1"/>
<text x="445.9" y="570.5" font-size="11.1" font-weight="bold" text-anchor="middle" >528</text>
<text x="514.1" y="570.5" font-size="11.1" font-weight="bold" text-anchor="middle" >530</text>
<text x="582.3" y="570.5" font-size="11.1" font-weight="bold" text-anchor="middle" >532</text>
<text x="650.5" y="570.5" font-size="11.1" font-weight="bold" text-anchor="middle" >534</text>
<text x="718.7" y="570.5" font-size="11.1" font-weight="bold" text-anchor="middle" >536</text>
<text x="786.9" y="570.5" font-size="11.1" font-weight="bold" text-anchor="middle" >538</text>
<text x="562.7" y="587" font-size="12.41" font-weight="bold" text-anchor="start" >Binding energy (eV)</text>
<text transform="translate(432.9,416.8) rotate(-90)" font-size="12.3" font-weight="bold" text-anchor="middle">Intensity (a.u)</text>
<text x="463.2" y="324.6" font-size="15.6" class="r" text-anchor="start" >(d)</text>
<text x="459.6" y="349.6" font-size="15.4" class="r" text-anchor="start" >O 1s</text>
<path d="M447,516.6 L447.5,516.6 L448,516.6 L448.5,516.6 L449,516.6 L449.5,516.6 L450,516.6 L450.5,516.6 L451,516.6 L451.5,516.6 L452,516.6 L452.5,516.6 L453,516.6 L453.5,516.6 L454,516.6 L454.5,516.6 L455,516.6 L455.5,516.6 L456,516.6 L456.5,516.6 L457,516.6 L457.5,516.6 L458,516.6 L458.5,516.6 L459,516.6 L459.5,516.6 L460,516.6 L460.5,516.6 L461,516.6 L461.5,516.6 L462,516.6 L462.5,516.6 L463,516.6 L463.5,516.6 L464,516.6 L464.5,516.6 L465,516.6 L465.5,516.6 L466,516.6 L466.5,516.6 L467,516.6 L467.5,516.6 L468,516.6 L468.5,516.6 L469,516.6 L469.5,516.6 L470,516.6 L470.5,516.6 L471,516.6 L471.5,516.6 L472,516.6 L472.5,516.6 L473,516.6 L473.5,516.6 L474,516.6 L474.5,516.6 L475,516.6 L475.5,516.6 L476,516.6 L476.5,516.6 L477,516.6 L477.5,516.6 L478,516.6 L478.5,516.6 L479,516.6 L479.5,516.6 L480,516.6 L480.5,516.6 L481,516.6 L481.5,516.6 L482,516.6 L482.5,516.6 L483,516.6 L483.5,516.6 L484,516.6 L484.5,516.6 L485,516.6 L485.5,516.6 L486,516.6 L486.5,516.6 L487,516.6 L487.5,516.6 L488,516.6 L488.5,516.6 L489,516.6 L489.5,516.6 L490,516.6 L490.5,516.6 L491,516.6 L491.5,516.6 L492,516.6 L492.5,516.6 L493,516.6 L493.5,516.6 L494,516.6 L494.5,516.6 L495,516.6 L495.5,516.6 L496,516.6 L496.5,516.6 L497,516.6 L497.5,516.6 L498,516.6 L498.5,516.6 L499,516.6 L499.5,516.6 L500,516.6 L500.5,516.6 L501,516.6 L501.5,516.6 L502,516.6 L502.5,516.6 L503,516.6 L503.5,516.6 L504,516.6 L504.5,516.6 L505,516.6 L505.5,516.6 L506,516.6 L506.5,516.6 L507,516.6 L507.5,516.6 L508,516.59 L508.5,516.59 L509,516.59 L509.5,516.59 L510,516.59 L510.5,516.59 L511,516.59 L511.5,516.59 L512,516.59 L512.5,516.59 L513,516.58 L513.5,516.58 L514,516.58 L514.5,516.58 L515,516.58 L515.5,516.57 L516,516.57 L516.5,516.57 L517,516.56 L517.5,516.56 L518,516.56 L518.5,516.55 L519,516.55 L519.5,516.54 L520,516.53 L520.5,516.53 L521,516.52 L521.5,516.51 L522,516.5 L522.5,516.49 L523,516.48 L523.5,516.47 L524,516.46 L524.5,516.44 L525,516.43 L525.5,516.41 L526,516.39 L526.5,516.37 L527,516.35 L527.5,516.33 L528,516.3 L528.5,516.27 L529,516.24 L529.5,516.21 L530,516.17 L530.5,516.14 L531,516.09 L531.5,516.05 L532,516 L532.5,515.95 L533,515.89 L533.5,515.83 L534,515.77 L534.5,515.7 L535,515.62 L535.5,515.54 L536,515.46 L536.5,515.36 L537,515.26 L537.5,515.16 L538,515.04 L538.5,514.92 L539,514.79 L539.5,514.65 L540,514.5 L540.5,514.34 L541,514.17 L541.5,513.99 L542,513.8 L542.5,513.6 L543,513.38 L543.5,513.15 L544,512.9 L544.5,512.64 L545,512.37 L545.5,512.08 L546,511.77 L546.5,511.44 L547,511.1 L547.5,510.73 L548,510.35 L548.5,509.94 L549,509.52 L549.5,509.07 L550,508.59 L550.5,508.1 L551,507.57 L551.5,507.02 L552,506.45 L552.5,505.85 L553,505.21 L553.5,504.55 L554,503.86 L554.5,503.14 L555,502.39 L555.5,501.6 L556,500.78 L556.5,499.92 L557,499.03 L557.5,498.11 L558,497.15 L558.5,496.15 L559,495.11 L559.5,494.04 L560,492.92 L560.5,491.77 L561,490.58 L561.5,489.35 L562,488.08 L562.5,486.77 L563,485.42 L563.5,484.02 L564,482.59 L564.5,481.12 L565,479.6 L565.5,478.05 L566,476.46 L566.5,474.83 L567,473.15 L567.5,471.45 L568,469.7 L568.5,467.92 L569,466.1 L569.5,464.25 L570,462.36 L570.5,460.44 L571,458.49 L571.5,456.51 L572,454.51 L572.5,452.48 L573,450.42 L573.5,448.34 L574,446.24 L574.5,444.12 L575,441.99 L575.5,439.84 L576,437.68 L576.5,435.52 L577,433.34 L577.5,431.16 L578,428.98 L578.5,426.81 L579,424.63 L579.5,422.47 L580,420.31 L580.5,418.17 L581,416.04 L581.5,413.94 L582,411.86 L582.5,409.8 L583,407.77 L583.5,405.77 L584,403.81 L584.5,401.89 L585,400.01 L585.5,398.17 L586,396.39 L586.5,394.65 L587,392.97 L587.5,391.34 L588,389.77 L588.5,388.27 L589,386.83 L589.5,385.45 L590,384.15 L590.5,382.92 L591,381.76 L591.5,380.69 L592,379.69 L592.5,378.77 L593,377.93 L593.5,377.17 L594,376.51 L594.5,375.92 L595,375.43 L595.5,375.02 L596,374.71 L596.5,374.48 L597,374.35 L597.5,374.3 L598,374.35 L598.5,374.51 L599,374.76 L599.5,375.12 L600,375.58 L600.5,376.14 L601,376.8 L601.5,377.55 L602,378.4 L602.5,379.35 L603,380.39 L603.5,381.51 L604,382.73 L604.5,384.03 L605,385.41 L605.5,386.87 L606,388.41 L606.5,390.02 L607,391.7 L607.5,393.45 L608,395.26 L608.5,397.13 L609,399.06 L609.5,401.04 L610,403.06 L610.5,405.14 L611,407.25 L611.5,409.4 L612,411.59 L612.5,413.8 L613,416.04 L613.5,418.31 L614,420.59 L614.5,422.88 L615,425.19 L615.5,427.51 L616,429.83 L616.5,432.15 L617,434.46 L617.5,436.78 L618,439.08 L618.5,441.37 L619,443.64 L619.5,445.9 L620,448.14 L620.5,450.35 L621,452.54 L621.5,454.7 L622,456.83 L622.5,458.93 L623,461 L623.5,463.03 L624,465.03 L624.5,466.98 L625,468.9 L625.5,470.77 L626,472.61 L626.5,474.4 L627,476.14 L627.5,477.85 L628,479.5 L628.5,481.12 L629,482.68 L629.5,484.21 L630,485.68 L630.5,487.11 L631,488.49 L631.5,489.83 L632,491.12 L632.5,492.37 L633,493.58 L633.5,494.73 L634,495.85 L634.5,496.92 L635,497.96 L635.5,498.95 L636,499.89 L636.5,500.8 L637,501.68 L637.5,502.51 L638,503.31 L638.5,504.07 L639,504.79 L639.5,505.48 L640,506.14 L640.5,506.77 L641,507.36 L641.5,507.93 L642,508.47 L642.5,508.98 L643,509.46 L643.5,509.92 L644,510.35 L644.5,510.76 L645,511.14 L645.5,511.51 L646,511.85 L646.5,512.17 L647,512.48 L647.5,512.76 L648,513.03 L648.5,513.28 L649,513.52 L649.5,513.74 L650,513.95 L650.5,514.14 L651,514.33 L651.5,514.5 L652,514.66 L652.5,514.8 L653,514.94 L653.5,515.07 L654,515.19 L654.5,515.3 L655,515.4 L655.5,515.5 L656,515.59 L656.5,515.67 L657,515.75 L657.5,515.82 L658,515.88 L658.5,515.94 L659,516 L659.5,516.05 L660,516.1 L660.5,516.14 L661,516.18 L661.5,516.22 L662,516.25 L662.5,516.28 L663,516.31 L663.5,516.34 L664,516.36 L664.5,516.38 L665,516.4 L665.5,516.42 L666,516.44 L666.5,516.45 L667,516.47 L667.5,516.48 L668,516.49 L668.5,516.5 L669,516.51 L669.5,516.52 L670,516.53 L670.5,516.54 L671,516.54 L671.5,516.55 L672,516.55 L672.5,516.56 L673,516.56 L673.5,516.57 L674,516.57 L674.5,516.57 L675,516.58 L675.5,516.58 L676,516.58 L676.5,516.58 L677,516.58 L677.5,516.59 L678,516.59 L678.5,516.59 L679,516.59 L679.5,516.59 L680,516.59 L680.5,516.59 L681,516.59 L681.5,516.59 L682,516.6 L682.5,516.6 L683,516.6 L683.5,516.6 L684,516.6 L684.5,516.6 L685,516.6 L685.5,516.6 L686,516.6 L686.5,516.6 L687,516.6 L687.5,516.6 L688,516.6 L688.5,516.6 L689,516.6 L689.5,516.6 L690,516.6 L690.5,516.6 L691,516.6 L691.5,516.6 L692,516.6 L692.5,516.6 L693,516.6 L693.5,516.6 L694,516.6 L694.5,516.6 L695,516.6 L695.5,516.6 L696,516.6 L696.5,516.6 L697,516.6 L697.5,516.6 L698,516.6 L698.5,516.6 L699,516.6 L699.5,516.6 L700,516.6 L700.5,516.6 L701,516.6 L701.5,516.6 L702,516.6 L702.5,516.6 L703,516.6 L703.5,516.6 L704,516.6 L704.5,516.6 L705,516.6 L705.5,516.6 L706,516.6 L706.5,516.6 L707,516.6 L707.5,516.6 L708,516.6 L708.5,516.6 L709,516.6 L709.5,516.6 L710,516.6 L710.5,516.6 L711,516.6 L711.5,516.6 L712,516.6 L712.5,516.6 L713,516.6 L713.5,516.6 L714,516.6 L714.5,516.6 L715,516.6 L715.5,516.6 L716,516.6 L716.5,516.6 L717,516.6 L717.5,516.6 L718,516.6 L718.5,516.6 L719,516.6 L719.5,516.6 L720,516.6 L720.5,516.6 L721,516.6 L721.5,516.6 L722,516.6 L722.5,516.6 L723,516.6 L723.5,516.6 L724,516.6 L724.5,516.6 L725,516.6 L725.5,516.6 L726,516.6 L726.5,516.6 L727,516.6 L727.5,516.6 L728,516.6 L728.5,516.6 L729,516.6 L729.5,516.6 L730,516.6 L730.5,516.6 L731,516.6 L731.5,516.6 L732,516.6 L732.5,516.6 L733,516.6 L733.5,516.6 L734,516.6 L734.5,516.6 L735,516.6 L735.5,516.6 L736,516.6 L736.5,516.6 L737,516.6 L737.5,516.6 L738,516.6 L738.5,516.6 L739,516.6 L739.5,516.6 L740,516.6 L740.5,516.6 L741,516.6 L741.5,516.6 L742,516.6 L742.5,516.6 L743,516.6 L743.5,516.6 L744,516.6 L744.5,516.6 L745,516.6 L745.5,516.6 L746,516.6 L746.5,516.6 L747,516.6 L747.5,516.6 L748,516.6 L748.5,516.6 L749,516.6 L749.5,516.6 L750,516.6 L750.5,516.6 L751,516.6 L751.5,516.6 L752,516.6 L752.5,516.6 L753,516.6 L753.5,516.6 L754,516.6 L754.5,516.6 L755,516.6 L755.5,516.6 L756,516.6 L756.5,516.6 L757,516.6 L757.5,516.6 L758,516.6 L758.5,516.6 L759,516.6 L759.5,516.6 L760,516.6 L760.5,516.6 L761,516.6 L761.5,516.6 L762,516.6 L762.5,516.6 L763,516.6 L763.5,516.6 L764,516.6 L764.5,516.6 L765,516.6 L765.5,516.6 L766,516.6 L766.5,516.6 L767,516.6 L767.5,516.6 L768,516.6 L768.5,516.6 L769,516.6 L769.5,516.6 L770,516.6 L770.5,516.6 L771,516.6 L771.5,516.6 L772,516.6 L772.5,516.6 L773,516.6 L773.5,516.6 L774,516.6 L774.5,516.6 L775,516.6 L775.5,516.6 L776,516.6 L776.5,516.6 L777,516.6 L777.5,516.6 L778,516.6 L778.5,516.6 L779,516.6 L779.5,516.6 L780,516.6 L780.5,516.6 L781,516.6 L781.5,516.6 L782,516.6 L782.5,516.6 L783,516.6 L783.5,516.6 L784,516.6 L784.5,516.6 L785,516.6" fill="none" stroke="#00b050" stroke-width="2.2" stroke-linejoin="round" />
<path d="M447,516.6 L447.5,516.6 L448,516.6 L448.5,516.6 L449,516.6 L449.5,516.6 L450,516.6 L450.5,516.6 L451,516.6 L451.5,516.6 L452,516.6 L452.5,516.6 L453,516.6 L453.5,516.6 L454,516.6 L454.5,516.6 L455,516.6 L455.5,516.6 L456,516.6 L456.5,516.6 L457,516.6 L457.5,516.6 L458,516.6 L458.5,516.6 L459,516.6 L459.5,516.6 L460,516.6 L460.5,516.6 L461,516.6 L461.5,516.6 L462,516.6 L462.5,516.6 L463,516.6 L463.5,516.6 L464,516.6 L464.5,516.6 L465,516.6 L465.5,516.6 L466,516.6 L466.5,516.6 L467,516.6 L467.5,516.6 L468,516.6 L468.5,516.6 L469,516.6 L469.5,516.6 L470,516.6 L470.5,516.6 L471,516.6 L471.5,516.6 L472,516.6 L472.5,516.6 L473,516.6 L473.5,516.6 L474,516.6 L474.5,516.6 L475,516.6 L475.5,516.6 L476,516.6 L476.5,516.6 L477,516.6 L477.5,516.6 L478,516.6 L478.5,516.6 L479,516.6 L479.5,516.6 L480,516.6 L480.5,516.6 L481,516.6 L481.5,516.6 L482,516.6 L482.5,516.6 L483,516.6 L483.5,516.6 L484,516.6 L484.5,516.6 L485,516.6 L485.5,516.6 L486,516.6 L486.5,516.6 L487,516.6 L487.5,516.6 L488,516.6 L488.5,516.6 L489,516.6 L489.5,516.6 L490,516.6 L490.5,516.6 L491,516.6 L491.5,516.6 L492,516.6 L492.5,516.6 L493,516.6 L493.5,516.6 L494,516.6 L494.5,516.6 L495,516.6 L495.5,516.6 L496,516.6 L496.5,516.6 L497,516.6 L497.5,516.6 L498,516.6 L498.5,516.6 L499,516.6 L499.5,516.6 L500,516.6 L500.5,516.6 L501,516.6 L501.5,516.6 L502,516.6 L502.5,516.6 L503,516.6 L503.5,516.6 L504,516.6 L504.5,516.6 L505,516.6 L505.5,516.6 L506,516.6 L506.5,516.6 L507,516.6 L507.5,516.6 L508,516.6 L508.5,516.6 L509,516.6 L509.5,516.6 L510,516.6 L510.5,516.6 L511,516.6 L511.5,516.6 L512,516.6 L512.5,516.6 L513,516.6 L513.5,516.6 L514,516.6 L514.5,516.6 L515,516.6 L515.5,516.6 L516,516.6 L516.5,516.6 L517,516.6 L517.5,516.6 L518,516.6 L518.5,516.6 L519,516.6 L519.5,516.6 L520,516.6 L520.5,516.6 L521,516.6 L521.5,516.6 L522,516.6 L522.5,516.6 L523,516.6 L523.5,516.6 L524,516.6 L524.5,516.6 L525,516.6 L525.5,516.6 L526,516.6 L526.5,516.6 L527,516.6 L527.5,516.6 L528,516.6 L528.5,516.6 L529,516.6 L529.5,516.6 L530,516.6 L530.5,516.6 L531,516.6 L531.5,516.6 L532,516.6 L532.5,516.6 L533,516.6 L533.5,516.59 L534,516.59 L534.5,516.59 L535,516.59 L535.5,516.59 L536,516.59 L536.5,516.59 L537,516.59 L537.5,516.59 L538,516.59 L538.5,516.58 L539,516.58 L539.5,516.58 L540,516.58 L540.5,516.58 L541,516.57 L541.5,516.57 L542,516.57 L542.5,516.57 L543,516.56 L543.5,516.56 L544,516.55 L544.5,516.55 L545,516.54 L545.5,516.54 L546,516.53 L546.5,516.53 L547,516.52 L547.5,516.51 L548,516.5 L548.5,516.49 L549,516.48 L549.5,516.47 L550,516.46 L550.5,516.45 L551,516.43 L551.5,516.42 L552,516.4 L552.5,516.39 L553,516.37 L553.5,516.35 L554,516.32 L554.5,516.3 L555,516.28 L555.5,516.25 L556,516.22 L556.5,516.19 L557,516.15 L557.5,516.11 L558,516.08 L558.5,516.03 L559,515.99 L559.5,515.94 L560,515.89 L560.5,515.83 L561,515.77 L561.5,515.71 L562,515.64 L562.5,515.57 L563,515.49 L563.5,515.41 L564,515.32 L564.5,515.23 L565,515.13 L565.5,515.02 L566,514.91 L566.5,514.79 L567,514.67 L567.5,514.54 L568,514.4 L568.5,514.25 L569,514.09 L569.5,513.93 L570,513.75 L570.5,513.57 L571,513.37 L571.5,513.17 L572,512.95 L572.5,512.73 L573,512.49 L573.5,512.24 L574,511.98 L574.5,511.7 L575,511.41 L575.5,511.11 L576,510.8 L576.5,510.47 L577,510.12 L577.5,509.77 L578,509.39 L578.5,509 L579,508.6 L579.5,508.17 L580,507.73 L580.5,507.28 L581,506.8 L581.5,506.31 L582,505.8 L582.5,505.28 L583,504.73 L583.5,504.17 L584,503.58 L584.5,502.98 L585,502.36 L585.5,501.72 L586,501.06 L586.5,500.39 L587,499.69 L587.5,498.97 L588,498.24 L588.5,497.49 L589,496.71 L589.5,495.92 L590,495.12 L590.5,494.29 L591,493.45 L591.5,492.59 L592,491.72 L592.5,490.82 L593,489.92 L593.5,489 L594,488.06 L594.5,487.11 L595,486.15 L595.5,485.18 L596,484.2 L596.5,483.2 L597,482.2 L597.5,481.19 L598,480.18 L598.5,479.15 L599,478.13 L599.5,477.09 L600,476.06 L600.5,475.03 L601,473.99 L601.5,472.96 L602,471.93 L602.5,470.91 L603,469.89 L603.5,468.88 L604,467.87 L604.5,466.88 L605,465.9 L605.5,464.93 L606,463.97 L606.5,463.03 L607,462.11 L607.5,461.21 L608,460.33 L608.5,459.46 L609,458.63 L609.5,457.81 L610,457.02 L610.5,456.26 L611,455.53 L611.5,454.83 L612,454.16 L612.5,453.52 L613,452.91 L613.5,452.34 L614,451.8 L614.5,451.3 L615,450.84 L615.5,450.42 L616,450.03 L616.5,449.68 L617,449.38 L617.5,449.11 L618,448.89 L618.5,448.71 L619,448.57 L619.5,448.47 L620,448.41 L620.5,448.4 L621,448.43 L621.5,448.5 L622,448.62 L622.5,448.77 L623,448.97 L623.5,449.21 L624,449.5 L624.5,449.82 L625,450.18 L625.5,450.58 L626,451.02 L626.5,451.5 L627,452.01 L627.5,452.56 L628,453.15 L628.5,453.77 L629,454.42 L629.5,455.11 L630,455.82 L630.5,456.56 L631,457.34 L631.5,458.13 L632,458.96 L632.5,459.81 L633,460.68 L633.5,461.57 L634,462.48 L634.5,463.41 L635,464.35 L635.5,465.31 L636,466.29 L636.5,467.27 L637,468.27 L637.5,469.28 L638,470.3 L638.5,471.32 L639,472.34 L639.5,473.37 L640,474.41 L640.5,475.44 L641,476.48 L641.5,477.51 L642,478.54 L642.5,479.56 L643,480.58 L643.5,481.6 L644,482.6 L644.5,483.6 L645,484.59 L645.5,485.57 L646,486.54 L646.5,487.49 L647,488.44 L647.5,489.37 L648,490.28 L648.5,491.18 L649,492.07 L649.5,492.94 L650,493.79 L650.5,494.62 L651,495.44 L651.5,496.24 L652,497.03 L652.5,497.79 L653,498.53 L653.5,499.26 L654,499.97 L654.5,500.66 L655,501.33 L655.5,501.98 L656,502.61 L656.5,503.22 L657,503.82 L657.5,504.39 L658,504.95 L658.5,505.49 L659,506.01 L659.5,506.51 L660,507 L660.5,507.46 L661,507.91 L661.5,508.34 L662,508.76 L662.5,509.16 L663,509.54 L663.5,509.91 L664,510.26 L664.5,510.6 L665,510.93 L665.5,511.23 L666,511.53 L666.5,511.81 L667,512.08 L667.5,512.34 L668,512.58 L668.5,512.82 L669,513.04 L669.5,513.25 L670,513.45 L670.5,513.64 L671,513.82 L671.5,513.99 L672,514.15 L672.5,514.31 L673,514.45 L673.5,514.59 L674,514.72 L674.5,514.84 L675,514.96 L675.5,515.07 L676,515.17 L676.5,515.27 L677,515.36 L677.5,515.44 L678,515.52 L678.5,515.6 L679,515.67 L679.5,515.73 L680,515.8 L680.5,515.85 L681,515.91 L681.5,515.96 L682,516.01 L682.5,516.05 L683,516.09 L683.5,516.13 L684,516.17 L684.5,516.2 L685,516.23 L685.5,516.26 L686,516.29 L686.5,516.31 L687,516.33 L687.5,516.35 L688,516.37 L688.5,516.39 L689,516.41 L689.5,516.43 L690,516.44 L690.5,516.45 L691,516.47 L691.5,516.48 L692,516.49 L692.5,516.5 L693,516.51 L693.5,516.51 L694,516.52 L694.5,516.53 L695,516.54 L695.5,516.54 L696,516.55 L696.5,516.55 L697,516.56 L697.5,516.56 L698,516.56 L698.5,516.57 L699,516.57 L699.5,516.57 L700,516.58 L700.5,516.58 L701,516.58 L701.5,516.58 L702,516.58 L702.5,516.59 L703,516.59 L703.5,516.59 L704,516.59 L704.5,516.59 L705,516.59 L705.5,516.59 L706,516.59 L706.5,516.59 L707,516.59 L707.5,516.59 L708,516.6 L708.5,516.6 L709,516.6 L709.5,516.6 L710,516.6 L710.5,516.6 L711,516.6 L711.5,516.6 L712,516.6 L712.5,516.6 L713,516.6 L713.5,516.6 L714,516.6 L714.5,516.6 L715,516.6 L715.5,516.6 L716,516.6 L716.5,516.6 L717,516.6 L717.5,516.6 L718,516.6 L718.5,516.6 L719,516.6 L719.5,516.6 L720,516.6 L720.5,516.6 L721,516.6 L721.5,516.6 L722,516.6 L722.5,516.6 L723,516.6 L723.5,516.6 L724,516.6 L724.5,516.6 L725,516.6 L725.5,516.6 L726,516.6 L726.5,516.6 L727,516.6 L727.5,516.6 L728,516.6 L728.5,516.6 L729,516.6 L729.5,516.6 L730,516.6 L730.5,516.6 L731,516.6 L731.5,516.6 L732,516.6 L732.5,516.6 L733,516.6 L733.5,516.6 L734,516.6 L734.5,516.6 L735,516.6 L735.5,516.6 L736,516.6 L736.5,516.6 L737,516.6 L737.5,516.6 L738,516.6 L738.5,516.6 L739,516.6 L739.5,516.6 L740,516.6 L740.5,516.6 L741,516.6 L741.5,516.6 L742,516.6 L742.5,516.6 L743,516.6 L743.5,516.6 L744,516.6 L744.5,516.6 L745,516.6 L745.5,516.6 L746,516.6 L746.5,516.6 L747,516.6 L747.5,516.6 L748,516.6 L748.5,516.6 L749,516.6 L749.5,516.6 L750,516.6 L750.5,516.6 L751,516.6 L751.5,516.6 L752,516.6 L752.5,516.6 L753,516.6 L753.5,516.6 L754,516.6 L754.5,516.6 L755,516.6 L755.5,516.6 L756,516.6 L756.5,516.6 L757,516.6 L757.5,516.6 L758,516.6 L758.5,516.6 L759,516.6 L759.5,516.6 L760,516.6 L760.5,516.6 L761,516.6 L761.5,516.6 L762,516.6 L762.5,516.6 L763,516.6 L763.5,516.6 L764,516.6 L764.5,516.6 L765,516.6 L765.5,516.6 L766,516.6 L766.5,516.6 L767,516.6 L767.5,516.6 L768,516.6 L768.5,516.6 L769,516.6 L769.5,516.6 L770,516.6 L770.5,516.6 L771,516.6 L771.5,516.6 L772,516.6 L772.5,516.6 L773,516.6 L773.5,516.6 L774,516.6 L774.5,516.6 L775,516.6 L775.5,516.6 L776,516.6 L776.5,516.6 L777,516.6 L777.5,516.6 L778,516.6 L778.5,516.6 L779,516.6 L779.5,516.6 L780,516.6 L780.5,516.6 L781,516.6 L781.5,516.6 L782,516.6 L782.5,516.6 L783,516.6 L783.5,516.6 L784,516.6 L784.5,516.6 L785,516.6" fill="none" stroke="#ed7d31" stroke-width="2.2" stroke-linejoin="round" />
<path d="M447,517 L447.5,517 L448,517 L448.5,517 L449,517 L449.5,517 L450,517 L450.5,517 L451,517 L451.5,517 L452,517 L452.5,517 L453,517 L453.5,517 L454,517 L454.5,517 L455,517 L455.5,517 L456,517 L456.5,517 L457,517 L457.5,517 L458,517 L458.5,517 L459,517 L459.5,517 L460,517 L460.5,517 L461,517 L461.5,517 L462,517 L462.5,517 L463,517 L463.5,517 L464,517 L464.5,517 L465,517 L465.5,517 L466,517 L466.5,517 L467,517 L467.5,517 L468,517 L468.5,517 L469,517 L469.5,517 L470,517 L470.5,517 L471,517 L471.5,517 L472,517 L472.5,517 L473,517 L473.5,517 L474,517 L474.5,517 L475,517 L475.5,517 L476,517 L476.5,517 L477,517 L477.5,517 L478,517 L478.5,517 L479,517 L479.5,517 L480,517 L480.5,517 L481,517 L481.5,517 L482,517 L482.5,517 L483,517 L483.5,517 L484,517 L484.5,517 L485,517 L485.5,517 L486,517 L486.5,517 L487,517 L487.5,517 L488,517 L488.5,517 L489,517 L489.5,517 L490,517 L490.5,517 L491,517 L491.5,517 L492,517 L492.5,517 L493,517 L493.5,517 L494,517 L494.5,517 L495,517 L495.5,517 L496,517 L496.5,517 L497,517 L497.5,517 L498,517 L498.5,517 L499,517 L499.5,517 L500,517 L500.5,517 L501,517 L501.5,517 L502,517 L502.5,517 L503,517 L503.5,517 L504,517 L504.5,517 L505,517 L505.5,517 L506,517 L506.5,517 L507,517 L507.5,517 L508,517 L508.5,517 L509,517 L509.5,517 L510,517 L510.5,517 L511,517 L511.5,517 L512,517 L512.5,517 L513,517 L513.5,517 L514,517 L514.5,517 L515,517 L515.5,517 L516,517 L516.5,517 L517,517 L517.5,517 L518,517 L518.5,517 L519,517 L519.5,517 L520,517 L520.5,517 L521,517 L521.5,517 L522,517 L522.5,517 L523,517 L523.5,517 L524,517 L524.5,517 L525,517 L525.5,517 L526,517 L526.5,517 L527,517 L527.5,517 L528,517 L528.5,517 L529,517 L529.5,517 L530,517 L530.5,517 L531,517 L531.5,517 L532,517 L532.5,517 L533,517 L533.5,517 L534,517 L534.5,517 L535,517 L535.5,517 L536,517 L536.5,517 L537,517 L537.5,517 L538,517 L538.5,517 L539,517 L539.5,517 L540,517 L540.5,517 L541,517 L541.5,517 L542,517 L542.5,517 L543,517 L543.5,517 L544,517 L544.5,517 L545,517 L545.5,517 L546,517 L546.5,517 L547,517 L547.5,517 L548,517 L548.5,517 L549,517 L549.5,517 L550,517 L550.5,517 L551,517 L551.5,517 L552,517 L552.5,517 L553,517 L553.5,517 L554,517 L554.5,517 L555,517 L555.5,517 L556,517 L556.5,517 L557,517 L557.5,517 L558,517 L558.5,517 L559,517 L559.5,517 L560,517 L560.5,517 L561,517 L561.5,517 L562,517 L562.5,517 L563,517 L563.5,517 L564,517 L564.5,517 L565,517 L565.5,517 L566,517 L566.5,517 L567,517 L567.5,517 L568,517 L568.5,517 L569,517 L569.5,517 L570,517 L570.5,517 L571,517 L571.5,517 L572,517 L572.5,517 L573,517 L573.5,517 L574,517 L574.5,517 L575,517 L575.5,517 L576,517 L576.5,517 L577,517 L577.5,517 L578,517 L578.5,517 L579,517 L579.5,517 L580,517 L580.5,517 L581,517 L581.5,517 L582,517 L582.5,517 L583,517 L583.5,517 L584,517 L584.5,517 L585,517 L585.5,517 L586,517 L586.5,517 L587,517 L587.5,517 L588,517 L588.5,517 L589,517 L589.5,517 L590,517 L590.5,517 L591,517 L591.5,517 L592,517 L592.5,517 L593,517 L593.5,517 L594,517 L594.5,517 L595,517 L595.5,517 L596,517 L596.5,517 L597,517 L597.5,517 L598,517 L598.5,517 L599,517 L599.5,517 L600,517 L600.5,517 L601,517 L601.5,517 L602,517 L602.5,517 L603,517 L603.5,517 L604,517 L604.5,517 L605,517 L605.5,517 L606,517 L606.5,517 L607,517 L607.5,517 L608,517 L608.5,517 L609,517 L609.5,517 L610,517 L610.5,517 L611,517 L611.5,517 L612,517 L612.5,517 L613,517 L613.5,517 L614,517 L614.5,517 L615,517 L615.5,517 L616,517 L616.5,517 L617,517 L617.5,517 L618,517 L618.5,517 L619,517 L619.5,517 L620,517 L620.5,517 L621,517 L621.5,517 L622,517 L622.5,517 L623,517 L623.5,517 L624,517 L624.5,517 L625,517 L625.5,517 L626,517 L626.5,517 L627,517 L627.5,517 L628,517 L628.5,517 L629,517 L629.5,517 L630,517 L630.5,517 L631,517 L631.5,517 L632,517 L632.5,517 L633,517 L633.5,517 L634,517 L634.5,517 L635,517 L635.5,517 L636,517 L636.5,517 L637,517 L637.5,517 L638,517 L638.5,517 L639,517 L639.5,517 L640,517 L640.5,517 L641,517 L641.5,517 L642,517 L642.5,517 L643,517 L643.5,517 L644,517 L644.5,517 L645,517 L645.5,517 L646,517 L646.5,517 L647,517 L647.5,517 L648,517 L648.5,517 L649,517 L649.5,517 L650,517 L650.5,517 L651,517 L651.5,517 L652,517 L652.5,517 L653,517 L653.5,517 L654,517 L654.5,517 L655,517 L655.5,517 L656,517 L656.5,517 L657,517 L657.5,517 L658,517 L658.5,517 L659,517 L659.5,517 L660,517 L660.5,517 L661,517 L661.5,517 L662,517 L662.5,517 L663,517 L663.5,517 L664,517 L664.5,517 L665,517 L665.5,517 L666,517 L666.5,517 L667,517 L667.5,517 L668,517 L668.5,517 L669,517 L669.5,517 L670,517 L670.5,517 L671,517 L671.5,517 L672,517 L672.5,517 L673,517 L673.5,517 L674,517 L674.5,517 L675,517 L675.5,517 L676,517 L676.5,517 L677,517 L677.5,517 L678,517 L678.5,517 L679,517 L679.5,517 L680,517 L680.5,517 L681,517 L681.5,517 L682,517 L682.5,517 L683,517 L683.5,517 L684,517 L684.5,517 L685,517 L685.5,517 L686,517 L686.5,517 L687,517 L687.5,517 L688,517 L688.5,517 L689,517 L689.5,517 L690,517 L690.5,517 L691,517 L691.5,517 L692,517 L692.5,517 L693,517 L693.5,517 L694,517 L694.5,517 L695,517 L695.5,517 L696,517 L696.5,517 L697,517 L697.5,517 L698,517 L698.5,517 L699,517 L699.5,517 L700,517 L700.5,517 L701,517 L701.5,517 L702,517 L702.5,517 L703,517 L703.5,517 L704,517 L704.5,517 L705,517 L705.5,517 L706,517 L706.5,517 L707,517 L707.5,517 L708,517 L708.5,517 L709,517 L709.5,517 L710,517 L710.5,517 L711,517 L711.5,517 L712,517 L712.5,517 L713,517 L713.5,517 L714,517 L714.5,517 L715,517 L715.5,517 L716,517 L716.5,517 L717,517 L717.5,517 L718,517 L718.5,517 L719,517 L719.5,517 L720,517 L720.5,517 L721,517 L721.5,517 L722,517 L722.5,517 L723,517 L723.5,517 L724,517 L724.5,517 L725,517 L725.5,517 L726,517 L726.5,517 L727,517 L727.5,517 L728,517 L728.5,517 L729,517 L729.5,517 L730,517 L730.5,517 L731,517 L731.5,517 L732,517 L732.5,517 L733,517 L733.5,517 L734,517 L734.5,517 L735,517 L735.5,517 L736,517 L736.5,517 L737,517 L737.5,517 L738,517 L738.5,517 L739,517 L739.5,517 L740,517 L740.5,517 L741,517 L741.5,517 L742,517 L742.5,517 L743,517 L743.5,517 L744,517 L744.5,517 L745,517 L745.5,517 L746,517 L746.5,517 L747,517 L747.5,517 L748,517 L748.5,517 L749,517 L749.5,517 L750,517 L750.5,517 L751,517 L751.5,517 L752,517 L752.5,517 L753,517 L753.5,517 L754,517 L754.5,517 L755,517 L755.5,517 L756,517 L756.5,517 L757,517 L757.5,517 L758,517 L758.5,517 L759,517 L759.5,517 L760,517 L760.5,517 L761,517 L761.5,517 L762,517 L762.5,517 L763,517 L763.5,517 L764,517 L764.5,517 L765,517 L765.5,517 L766,517 L766.5,517 L767,517 L767.5,517 L768,517 L768.5,517 L769,517 L769.5,517 L770,517 L770.5,517 L771,517 L771.5,517 L772,517 L772.5,517 L773,517 L773.5,517 L774,517 L774.5,517 L775,517 L775.5,517 L776,517 L776.5,517 L777,517 L777.5,517 L778,517 L778.5,517 L779,517 L779.5,517 L780,517 L780.5,517 L781,517 L781.5,517 L782,517 L782.5,517 L783,517 L783.5,517 L784,517 L784.5,517 L785,517" fill="none" stroke="#4472c4" stroke-width="1.5" stroke-linejoin="round" />
<path d="M447,515.1 L447.5,515.1 L448,515.1 L448.5,515.1 L449,515.1 L449.5,515.1 L450,515.1 L450.5,515.1 L451,515.1 L451.5,515.1 L452,515.1 L452.5,515.1 L453,515.1 L453.5,515.1 L454,515.1 L454.5,515.1 L455,515.1 L455.5,515.1 L456,515.1 L456.5,515.1 L457,515.1 L457.5,515.1 L458,515.1 L458.5,515.1 L459,515.1 L459.5,515.1 L460,515.1 L460.5,515.1 L461,515.1 L461.5,515.1 L462,515.1 L462.5,515.1 L463,515.1 L463.5,515.1 L464,515.1 L464.5,515.1 L465,515.1 L465.5,515.1 L466,515.1 L466.5,515.1 L467,515.1 L467.5,515.1 L468,515.1 L468.5,515.1 L469,515.1 L469.5,515.1 L470,515.1 L470.5,515.1 L471,515.1 L471.5,515.1 L472,515.1 L472.5,515.1 L473,515.1 L473.5,515.1 L474,515.1 L474.5,515.1 L475,515.1 L475.5,515.1 L476,515.1 L476.5,515.1 L477,515.1 L477.5,515.1 L478,515.1 L478.5,515.1 L479,515.1 L479.5,515.1 L480,515.1 L480.5,515.1 L481,515.1 L481.5,515.1 L482,515.1 L482.5,515.1 L483,515.1 L483.5,515.1 L484,515.1 L484.5,515.1 L485,515.1 L485.5,515.1 L486,515.1 L486.5,515.1 L487,515.1 L487.5,515.1 L488,515.1 L488.5,515.1 L489,515.1 L489.5,515.1 L490,515.1 L490.5,515.1 L491,515.1 L491.5,515.1 L492,515.1 L492.5,515.1 L493,515.1 L493.5,515.1 L494,515.1 L494.5,515.1 L495,515.1 L495.5,515.1 L496,515.1 L496.5,515.1 L497,515.1 L497.5,515.1 L498,515.1 L498.5,515.1 L499,515.1 L499.5,515.1 L500,515.1 L500.5,515.1 L501,515.1 L501.5,515.1 L502,515.1 L502.5,515.1 L503,515.1 L503.5,515.1 L504,515.1 L504.5,515.1 L505,515.1 L505.5,515.1 L506,515.1 L506.5,515.1 L507,515.1 L507.5,515.1 L508,515.09 L508.5,515.09 L509,515.09 L509.5,515.09 L510,515.09 L510.5,515.09 L511,515.09 L511.5,515.09 L512,515.09 L512.5,515.09 L513,515.08 L513.5,515.08 L514,515.08 L514.5,515.08 L515,515.08 L515.5,515.07 L516,515.07 L516.5,515.07 L517,515.06 L517.5,515.06 L518,515.05 L518.5,515.05 L519,515.04 L519.5,515.04 L520,515.03 L520.5,515.02 L521,515.02 L521.5,515.01 L522,515 L522.5,514.99 L523,514.98 L523.5,514.96 L524,514.95 L524.5,514.94 L525,514.92 L525.5,514.9 L526,514.88 L526.5,514.86 L527,514.84 L527.5,514.82 L528,514.79 L528.5,514.76 L529,514.73 L529.5,514.7 L530,514.66 L530.5,514.62 L531,514.58 L531.5,514.53 L532,514.48 L532.5,514.43 L533,514.37 L533.5,514.31 L534,514.24 L534.5,514.17 L535,514.09 L535.5,514.01 L536,513.92 L536.5,513.82 L537,513.72 L537.5,513.61 L538,513.49 L538.5,513.36 L539,513.23 L539.5,513.08 L540,512.93 L540.5,512.76 L541,512.59 L541.5,512.4 L542,512.2 L542.5,511.99 L543,511.76 L543.5,511.52 L544,511.26 L544.5,510.99 L545,510.7 L545.5,510.4 L546,510.08 L546.5,509.74 L547,509.38 L547.5,508.99 L548,508.59 L548.5,508.17 L549,507.72 L549.5,507.25 L550,506.75 L550.5,506.23 L551,505.68 L551.5,505.1 L552,504.49 L552.5,503.86 L553,503.19 L553.5,502.49 L554,501.76 L554.5,501 L555,500.2 L555.5,499.36 L556,498.49 L556.5,497.58 L557,496.63 L557.5,495.65 L558,494.62 L558.5,493.56 L559,492.45 L559.5,491.3 L560,490.1 L560.5,488.86 L561,487.58 L561.5,486.25 L562,484.88 L562.5,483.46 L563,482 L563.5,480.49 L564,478.93 L564.5,477.32 L565,475.67 L565.5,473.97 L566,472.22 L566.5,470.43 L567,468.59 L567.5,466.7 L568,464.77 L568.5,462.79 L569,460.76 L569.5,458.69 L570,456.58 L570.5,454.43 L571,452.23 L571.5,449.99 L572,447.72 L572.5,445.4 L573,443.05 L573.5,440.66 L574,438.24 L574.5,435.79 L575,433.31 L575.5,430.8 L576,428.26 L576.5,425.7 L577,423.12 L577.5,420.52 L578,417.9 L578.5,415.27 L579,412.63 L579.5,409.98 L580,407.32 L580.5,404.65 L581,401.99 L581.5,399.33 L582,396.67 L582.5,394.02 L583,391.38 L583.5,388.76 L584,386.15 L584.5,383.56 L585,381 L585.5,378.46 L586,375.96 L586.5,373.48 L587,371.04 L587.5,368.64 L588,366.28 L588.5,363.97 L589,361.7 L589.5,359.48 L590,357.32 L590.5,355.21 L591,353.17 L591.5,351.18 L592,349.26 L592.5,347.4 L593,345.61 L593.5,343.9 L594,342.25 L594.5,340.68 L595,339.19 L595.5,337.78 L596,336.45 L596.5,335.2 L597,334.03 L597.5,332.95 L598,331.96 L598.5,331.07 L599,330.28 L599.5,329.59 L600,329 L600.5,328.52 L601,328.13 L601.5,327.85 L602,327.67 L602.5,327.58 L603,327.6 L603.5,327.72 L604,327.94 L604.5,328.25 L605,328.66 L605.5,329.16 L606,329.76 L606.5,330.45 L607,331.23 L607.5,332.09 L608,333.04 L608.5,334.08 L609,335.2 L609.5,336.39 L610,337.66 L610.5,339.01 L611,340.42 L611.5,341.91 L612,343.46 L612.5,345.07 L613,346.75 L613.5,348.48 L614,350.27 L614.5,352.11 L615,354 L615.5,355.94 L616,357.92 L616.5,359.95 L617,362.01 L617.5,364.11 L618,366.24 L618.5,368.4 L619,370.59 L619.5,372.8 L620,375.04 L620.5,377.29 L621,379.57 L621.5,381.86 L622,384.16 L622.5,386.47 L623,388.79 L623.5,391.12 L624,393.46 L624.5,395.79 L625,398.13 L625.5,400.46 L626,402.79 L626.5,405.11 L627,407.43 L627.5,409.74 L628,412.04 L628.5,414.33 L629,416.6 L629.5,418.86 L630,421.11 L630.5,423.34 L631,425.55 L631.5,427.74 L632,429.9 L632.5,432.05 L633,434.18 L633.5,436.28 L634,438.36 L634.5,440.41 L635,442.44 L635.5,444.44 L636,446.41 L636.5,448.35 L637,450.27 L637.5,452.15 L638,454.01 L638.5,455.84 L639,457.63 L639.5,459.4 L640,461.13 L640.5,462.83 L641,464.5 L641.5,466.14 L642,467.75 L642.5,469.32 L643,470.86 L643.5,472.37 L644,473.85 L644.5,475.29 L645,476.7 L645.5,478.07 L646,479.42 L646.5,480.73 L647,482.01 L647.5,483.25 L648,484.47 L648.5,485.65 L649,486.8 L649.5,487.92 L650,489 L650.5,490.06 L651,491.08 L651.5,492.08 L652,493.04 L652.5,493.98 L653,494.88 L653.5,495.76 L654,496.61 L654.5,497.43 L655,498.22 L655.5,498.99 L656,499.72 L656.5,500.44 L657,501.12 L657.5,501.79 L658,502.42 L658.5,503.04 L659,503.63 L659.5,504.2 L660,504.74 L660.5,505.26 L661,505.76 L661.5,506.25 L662,506.71 L662.5,507.15 L663,507.57 L663.5,507.97 L664,508.36 L664.5,508.73 L665,509.08 L665.5,509.42 L666,509.74 L666.5,510.04 L667,510.33 L667.5,510.61 L668,510.87 L668.5,511.12 L669,511.36 L669.5,511.59 L670,511.8 L670.5,512 L671,512.19 L671.5,512.37 L672,512.55 L672.5,512.71 L673,512.86 L673.5,513.01 L674,513.14 L674.5,513.27 L675,513.39 L675.5,513.51 L676,513.61 L676.5,513.71 L677,513.81 L677.5,513.9 L678,513.98 L678.5,514.06 L679,514.13 L679.5,514.2 L680,514.27 L680.5,514.33 L681,514.38 L681.5,514.44 L682,514.49 L682.5,514.53 L683,514.57 L683.5,514.61 L684,514.65 L684.5,514.69 L685,514.72 L685.5,514.75 L686,514.78 L686.5,514.8 L687,514.83 L687.5,514.85 L688,514.87 L688.5,514.89 L689,514.9 L689.5,514.92 L690,514.94 L690.5,514.95 L691,514.96 L691.5,514.97 L692,514.98 L692.5,514.99 L693,515 L693.5,515.01 L694,515.02 L694.5,515.03 L695,515.03 L695.5,515.04 L696,515.04 L696.5,515.05 L697,515.05 L697.5,515.06 L698,515.06 L698.5,515.07 L699,515.07 L699.5,515.07 L700,515.07 L700.5,515.08 L701,515.08 L701.5,515.08 L702,515.08 L702.5,515.08 L703,515.09 L703.5,515.09 L704,515.09 L704.5,515.09 L705,515.09 L705.5,515.09 L706,515.09 L706.5,515.09 L707,515.09 L707.5,515.09 L708,515.1 L708.5,515.1 L709,515.1 L709.5,515.1 L710,515.1 L710.5,515.1 L711,515.1 L711.5,515.1 L712,515.1 L712.5,515.1 L713,515.1 L713.5,515.1 L714,515.1 L714.5,515.1 L715,515.1 L715.5,515.1 L716,515.1 L716.5,515.1 L717,515.1 L717.5,515.1 L718,515.1 L718.5,515.1 L719,515.1 L719.5,515.1 L720,515.1 L720.5,515.1 L721,515.1 L721.5,515.1 L722,515.1 L722.5,515.1 L723,515.1 L723.5,515.1 L724,515.1 L724.5,515.1 L725,515.1 L725.5,515.1 L726,515.1 L726.5,515.1 L727,515.1 L727.5,515.1 L728,515.1 L728.5,515.1 L729,515.1 L729.5,515.1 L730,515.1 L730.5,515.1 L731,515.1 L731.5,515.1 L732,515.1 L732.5,515.1 L733,515.1 L733.5,515.1 L734,515.1 L734.5,515.1 L735,515.1 L735.5,515.1 L736,515.1 L736.5,515.1 L737,515.1 L737.5,515.1 L738,515.1 L738.5,515.1 L739,515.1 L739.5,515.1 L740,515.1 L740.5,515.1 L741,515.1 L741.5,515.1 L742,515.1 L742.5,515.1 L743,515.1 L743.5,515.1 L744,515.1 L744.5,515.1 L745,515.1 L745.5,515.1 L746,515.1 L746.5,515.1 L747,515.1 L747.5,515.1 L748,515.1 L748.5,515.1 L749,515.1 L749.5,515.1 L750,515.1 L750.5,515.1 L751,515.1 L751.5,515.1 L752,515.1 L752.5,515.1 L753,515.1 L753.5,515.1 L754,515.1 L754.5,515.1 L755,515.1 L755.5,515.1 L756,515.1 L756.5,515.1 L757,515.1 L757.5,515.1 L758,515.1 L758.5,515.1 L759,515.1 L759.5,515.1 L760,515.1 L760.5,515.1 L761,515.1 L761.5,515.1 L762,515.1 L762.5,515.1 L763,515.1 L763.5,515.1 L764,515.1 L764.5,515.1 L765,515.1 L765.5,515.1 L766,515.1 L766.5,515.1 L767,515.1 L767.5,515.1 L768,515.1 L768.5,515.1 L769,515.1 L769.5,515.1 L770,515.1 L770.5,515.1 L771,515.1 L771.5,515.1 L772,515.1 L772.5,515.1 L773,515.1 L773.5,515.1 L774,515.1 L774.5,515.1 L775,515.1 L775.5,515.1 L776,515.1 L776.5,515.1 L777,515.1 L777.5,515.1 L778,515.1 L778.5,515.1 L779,515.1 L779.5,515.1 L780,515.1 L780.5,515.1 L781,515.1 L781.5,515.1 L782,515.1 L782.5,515.1 L783,515.1 L783.5,515.1 L784,515.1 L784.5,515.1 L785,515.1" fill="none" stroke="#000" stroke-width="2.2" stroke-linejoin="round" stroke-dasharray="8 6.4" />
<line x1="637" y1="316.1" x2="667.3" y2="316.1" stroke="#000" stroke-width="2.2" stroke-dasharray="8.8 6.2"/>
<text x="669.8" y="320.1" font-size="11.35" class="r" text-anchor="start" >Cumulative Fitted Peak</text>
<line x1="637" y1="339.6" x2="667.3" y2="339.6" stroke="#00b050" stroke-width="2.2"/>
<text x="669.8" y="343.6" font-size="11.35" class="r" text-anchor="start" >NO<tspan dy="4.6">2</tspan><tspan dy="-4.6"> / 532.5 eV</tspan></text>
<line x1="637" y1="363.9" x2="667.3" y2="363.9" stroke="#ed7d31" stroke-width="2.2"/>
<text x="669.8" y="366.9" font-size="11.35" class="r" text-anchor="start" >C-OH/ 533.1 eV</text>
<line x1="637" y1="387.4" x2="667.3" y2="387.4" stroke="#4472c4" stroke-width="1.3"/>
<text x="669.8" y="391" font-size="11.35" class="r" text-anchor="start" >Background</text>
</svg>
</body></html>
